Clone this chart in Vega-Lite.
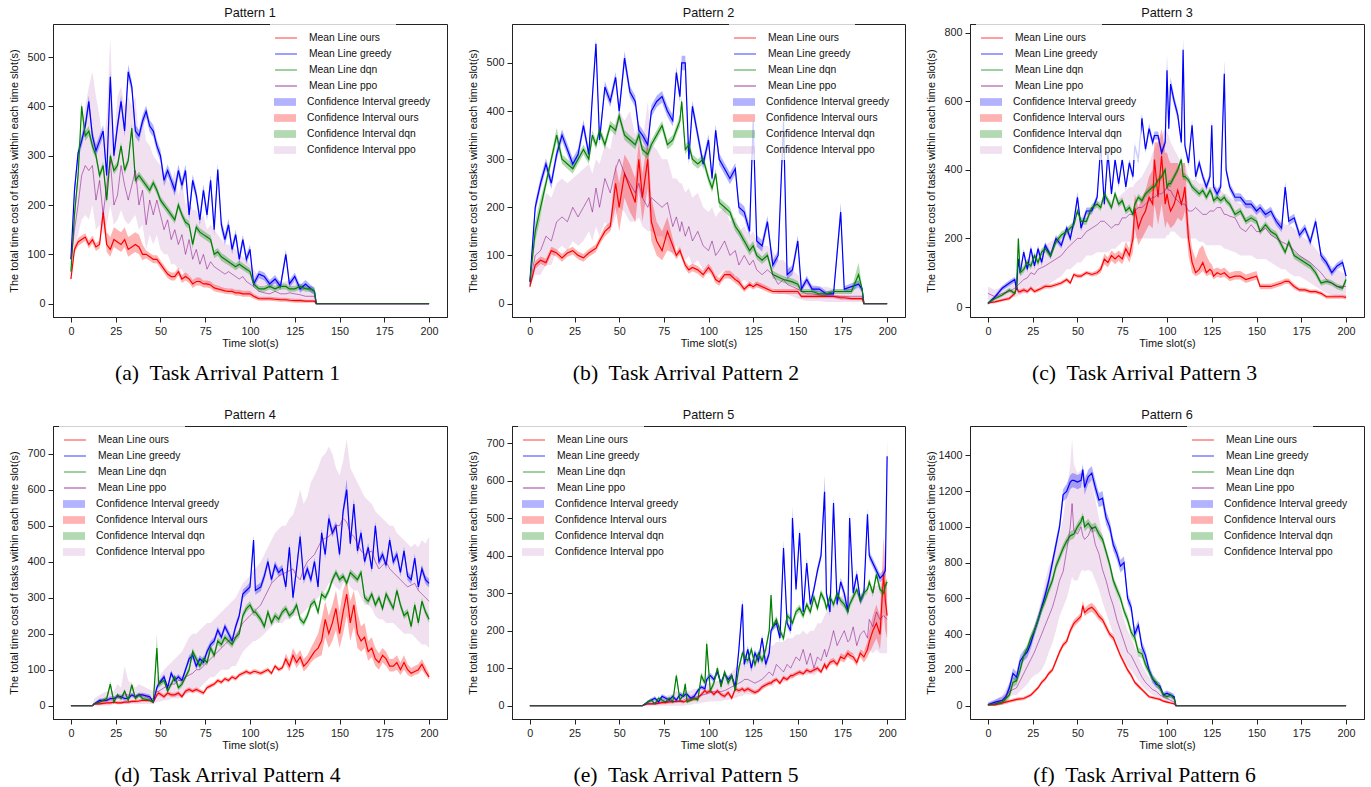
{
"$schema":"https://vega.github.io/schema/vega-lite/v6.json",
"background":"white",
"padding":{"left":7,"top":6,"right":5,"bottom":2},
"config":{
 "font":"Liberation Sans",
 "view":{"stroke":"#222","strokeWidth":1},
 "axis":{"grid":false,"domainColor":"#222","tickColor":"#222","labelColor":"#222","titleColor":"#111","labelFontSize":10.8,"titleFontSize":10.9,"titleFontWeight":"normal","tickSize":5,"labelPadding":3,"domainWidth":1,"labelFlush":false,"labelFont":"Liberation Sans","titleFont":"Liberation Sans","format":"d"},
 "axisX":{"titlePadding":2},
 "axisY":{"titlePadding":5,"minExtent":29,"maxExtent":29},
 "title":{"fontSize":12.7,"fontWeight":"normal","color":"#111","offset":4,"font":"Liberation Sans"},
 "legend":{"labelFont":"Liberation Sans","labelFontSize":10.3,"labelColor":"#111","padding":4,"rowPadding":1,"fillColor":"rgba(255,255,255,0.8)","symbolSize":324,"symbolOffset":2,"labelOffset":13,"labelLimit":300}
},
"resolve":{"scale":{"color":"independent","fill":"independent"},"legend":{"color":"independent","fill":"independent"}},
"spacing":23,
"vconcat":[
{"spacing":18,"resolve":{"scale":{"color":"independent","fill":"independent"},"legend":{"color":"independent","fill":"independent"}},
"hconcat":[
{"title":{"text":"(a)\u00a0 Task Arrival Pattern 1","orient":"bottom","anchor":"middle","font":"Liberation Serif","fontSize":21.7,"fontWeight":"normal","color":"#000","offset":14},
 "resolve":{"scale":{"color":"independent","fill":"independent"},"legend":{"color":"independent","fill":"independent"}},
 "vconcat":[{
 "title":"Pattern 1","width":394,"height":293,
 "data":{"values":[
{"t":0,"o":50,"ol":45,"oh":55,"g":90,"gl":82,"gh":98,"d":65,"dl":58,"dh":72,"q":90,"ql":80,"qh":100},
{"t":2,"o":110,"ol":102,"oh":118,"g":230,"gl":218,"gh":242,"d":180,"dl":170,"dh":190,"q":150,"ql":110,"qh":200},
{"t":4,"o":125,"ol":117,"oh":133,"g":305,"gl":293,"gh":317,"d":260,"dl":250,"dh":270,"q":200,"ql":140,"qh":280},
{"t":6,"o":130,"ol":122,"oh":138,"g":330,"gl":318,"gh":342,"d":400,"dl":385,"dh":410,"q":260,"ql":170,"qh":350},
{"t":8,"o":135,"ol":127,"oh":143,"g":360,"gl":348,"gh":372,"d":340,"dl":330,"dh":350,"q":280,"ql":180,"qh":400},
{"t":10,"o":120,"ol":112,"oh":128,"g":410,"gl":395,"gh":422,"d":350,"dl":340,"dh":360,"q":270,"ql":170,"qh":440},
{"t":12,"o":130,"ol":122,"oh":138,"g":340,"gl":328,"gh":352,"d":320,"dl":310,"dh":330,"q":280,"ql":200,"qh":470},
{"t":14,"o":115,"ol":107,"oh":123,"g":310,"gl":298,"gh":322,"d":300,"dl":292,"dh":308,"q":210,"ql":150,"qh":420},
{"t":16,"o":120,"ol":112,"oh":128,"g":330,"gl":318,"gh":342,"d":260,"dl":252,"dh":268,"q":250,"ql":160,"qh":380},
{"t":18,"o":185,"ol":170,"oh":200,"g":350,"gl":338,"gh":362,"d":280,"dl":272,"dh":288,"q":180,"ql":140,"qh":320},
{"t":20,"o":120,"ol":105,"oh":145,"g":260,"gl":248,"gh":272,"d":210,"dl":202,"dh":218,"q":240,"ql":160,"qh":380},
{"t":22,"o":110,"ol":95,"oh":135,"g":460,"gl":445,"gh":472,"d":300,"dl":292,"dh":308,"q":290,"ql":200,"qh":540},
{"t":24,"o":130,"ol":115,"oh":155,"g":300,"gl":288,"gh":312,"d":270,"dl":262,"dh":278,"q":200,"ql":160,"qh":330},
{"t":26,"o":125,"ol":110,"oh":150,"g":360,"gl":348,"gh":372,"d":280,"dl":272,"dh":288,"q":220,"ql":170,"qh":420},
{"t":28,"o":120,"ol":105,"oh":145,"g":410,"gl":398,"gh":422,"d":320,"dl":312,"dh":328,"q":280,"ql":190,"qh":440},
{"t":30,"o":130,"ol":115,"oh":155,"g":350,"gl":338,"gh":362,"d":270,"dl":262,"dh":278,"q":240,"ql":170,"qh":400},
{"t":32,"o":110,"ol":95,"oh":135,"g":470,"gl":455,"gh":485,"d":290,"dl":282,"dh":298,"q":210,"ql":160,"qh":420},
{"t":34,"o":115,"ol":100,"oh":140,"g":440,"gl":428,"gh":452,"d":356,"dl":345,"dh":365,"q":240,"ql":170,"qh":400},
{"t":36,"o":120,"ol":105,"oh":145,"g":350,"gl":338,"gh":362,"d":250,"dl":242,"dh":258,"q":270,"ql":180,"qh":420},
{"t":38,"o":115,"ol":100,"oh":140,"g":340,"gl":328,"gh":352,"d":260,"dl":252,"dh":268,"q":200,"ql":150,"qh":330},
{"t":40,"o":100,"ol":88,"oh":120,"g":370,"gl":358,"gh":382,"d":250,"dl":242,"dh":258,"q":230,"ql":160,"qh":380},
{"t":42,"o":100,"ol":92,"oh":108,"g":390,"gl":378,"gh":402,"d":240,"dl":232,"dh":248,"q":160,"ql":110,"qh":330},
{"t":44,"o":95,"ol":87,"oh":103,"g":360,"gl":348,"gh":372,"d":230,"dl":222,"dh":238,"q":210,"ql":140,"qh":320},
{"t":46,"o":90,"ol":82,"oh":98,"g":350,"gl":338,"gh":362,"d":245,"dl":237,"dh":253,"q":180,"ql":120,"qh":300},
{"t":48,"o":90,"ol":82,"oh":98,"g":320,"gl":308,"gh":332,"d":230,"dl":222,"dh":238,"q":210,"ql":140,"qh":290},
{"t":50,"o":80,"ol":72,"oh":88,"g":300,"gl":288,"gh":312,"d":210,"dl":202,"dh":218,"q":180,"ql":110,"qh":280},
{"t":52,"o":70,"ol":62,"oh":78,"g":250,"gl":238,"gh":262,"d":200,"dl":192,"dh":208,"q":150,"ql":100,"qh":260},
{"t":54,"o":60,"ol":52,"oh":68,"g":270,"gl":258,"gh":282,"d":190,"dl":182,"dh":198,"q":170,"ql":100,"qh":250},
{"t":56,"o":55,"ol":47,"oh":63,"g":250,"gl":238,"gh":262,"d":180,"dl":172,"dh":188,"q":130,"ql":80,"qh":240},
{"t":58,"o":55,"ol":47,"oh":63,"g":230,"gl":218,"gh":242,"d":170,"dl":162,"dh":178,"q":150,"ql":80,"qh":270},
{"t":60,"o":65,"ol":57,"oh":73,"g":270,"gl":258,"gh":282,"d":200,"dl":192,"dh":208,"q":120,"ql":70,"qh":220},
{"t":62,"o":50,"ol":42,"oh":58,"g":240,"gl":228,"gh":252,"d":180,"dl":172,"dh":188,"q":140,"ql":70,"qh":250},
{"t":64,"o":55,"ol":47,"oh":63,"g":270,"gl":258,"gh":282,"d":165,"dl":157,"dh":173,"q":100,"ql":50,"qh":200},
{"t":66,"o":50,"ol":42,"oh":58,"g":180,"gl":168,"gh":192,"d":160,"dl":152,"dh":168,"q":130,"ql":60,"qh":210},
{"t":68,"o":40,"ol":32,"oh":48,"g":250,"gl":238,"gh":262,"d":120,"dl":112,"dh":128,"q":90,"ql":40,"qh":190},
{"t":70,"o":45,"ol":37,"oh":53,"g":220,"gl":208,"gh":232,"d":155,"dl":147,"dh":163,"q":110,"ql":50,"qh":190},
{"t":72,"o":45,"ol":37,"oh":53,"g":170,"gl":158,"gh":182,"d":145,"dl":137,"dh":153,"q":80,"ql":40,"qh":170},
{"t":74,"o":40,"ol":33,"oh":47,"g":230,"gl":218,"gh":242,"d":140,"dl":132,"dh":148,"q":100,"ql":45,"qh":180},
{"t":76,"o":40,"ol":33,"oh":47,"g":180,"gl":168,"gh":192,"d":135,"dl":127,"dh":143,"q":70,"ql":35,"qh":150},
{"t":78,"o":38,"ol":31,"oh":45,"g":250,"gl":238,"gh":262,"d":130,"dl":122,"dh":138,"q":85,"ql":40,"qh":160},
{"t":80,"o":32,"ol":25,"oh":39,"g":150,"gl":138,"gh":162,"d":100,"dl":92,"dh":108,"q":75,"ql":35,"qh":150},
{"t":82,"o":30,"ol":23,"oh":37,"g":272,"gl":260,"gh":284,"d":105,"dl":97,"dh":113,"q":70,"ql":35,"qh":140},
{"t":84,"o":28,"ol":22,"oh":34,"g":160,"gl":148,"gh":172,"d":95,"dl":87,"dh":103,"q":65,"ql":30,"qh":130},
{"t":86,"o":26,"ol":20,"oh":32,"g":130,"gl":118,"gh":142,"d":90,"dl":82,"dh":98,"q":60,"ql":28,"qh":120},
{"t":88,"o":25,"ol":19,"oh":31,"g":160,"gl":148,"gh":172,"d":85,"dl":78,"dh":92,"q":65,"ql":30,"qh":120},
{"t":90,"o":25,"ol":19,"oh":31,"g":110,"gl":100,"gh":120,"d":80,"dl":73,"dh":87,"q":60,"ql":25,"qh":115},
{"t":92,"o":22,"ol":16,"oh":28,"g":140,"gl":130,"gh":150,"d":75,"dl":68,"dh":82,"q":55,"ql":25,"qh":110},
{"t":94,"o":22,"ol":16,"oh":28,"g":90,"gl":80,"gh":100,"d":80,"dl":73,"dh":87,"q":50,"ql":20,"qh":100},
{"t":96,"o":20,"ol":14,"oh":26,"g":130,"gl":120,"gh":140,"d":75,"dl":68,"dh":82,"q":55,"ql":22,"qh":95},
{"t":98,"o":20,"ol":14,"oh":26,"g":90,"gl":80,"gh":100,"d":70,"dl":63,"dh":77,"q":45,"ql":20,"qh":90},
{"t":100,"o":20,"ol":14,"oh":26,"g":110,"gl":100,"gh":120,"d":65,"dl":58,"dh":72,"q":40,"ql":18,"qh":80},
{"t":102,"o":15,"ol":10,"oh":20,"g":40,"gl":32,"gh":48,"d":40,"dl":34,"dh":46,"q":35,"ql":15,"qh":70},
{"t":105,"o":10,"ol":6,"oh":14,"g":60,"gl":52,"gh":68,"d":30,"dl":24,"dh":36,"q":25,"ql":10,"qh":55},
{"t":108,"o":10,"ol":6,"oh":14,"g":55,"gl":47,"gh":63,"d":30,"dl":24,"dh":36,"q":22,"ql":8,"qh":50},
{"t":111,"o":10,"ol":6,"oh":14,"g":40,"gl":32,"gh":48,"d":35,"dl":29,"dh":41,"q":20,"ql":8,"qh":45},
{"t":114,"o":9,"ol":5,"oh":13,"g":50,"gl":42,"gh":58,"d":30,"dl":24,"dh":36,"q":25,"ql":10,"qh":50},
{"t":117,"o":8,"ol":4,"oh":12,"g":35,"gl":27,"gh":43,"d":35,"dl":29,"dh":41,"q":20,"ql":8,"qh":45},
{"t":120,"o":8,"ol":4,"oh":12,"g":100,"gl":90,"gh":110,"d":35,"dl":29,"dh":41,"q":20,"ql":6,"qh":45},
{"t":122,"o":7,"ol":3,"oh":11,"g":40,"gl":32,"gh":48,"d":30,"dl":24,"dh":36,"q":22,"ql":8,"qh":48},
{"t":125,"o":6,"ol":2,"oh":10,"g":55,"gl":47,"gh":63,"d":30,"dl":24,"dh":36,"q":20,"ql":6,"qh":45},
{"t":128,"o":6,"ol":2,"oh":10,"g":30,"gl":22,"gh":38,"d":35,"dl":29,"dh":41,"q":18,"ql":5,"qh":40},
{"t":131,"o":5,"ol":2,"oh":8,"g":40,"gl":32,"gh":48,"d":30,"dl":24,"dh":36,"q":15,"ql":5,"qh":38},
{"t":134,"o":5,"ol":2,"oh":8,"g":30,"gl":22,"gh":38,"d":30,"dl":24,"dh":36,"q":15,"ql":5,"qh":35},
{"t":136,"o":5,"ol":2,"oh":8,"g":25,"gl":18,"gh":32,"d":25,"dl":19,"dh":31,"q":15,"ql":5,"qh":35},
{"t":137,"o":0,"ol":0,"oh":0,"g":0,"gl":0,"gh":0,"d":0,"dl":0,"dh":0,"q":0,"ql":0,"qh":0},
{"t":200,"o":0,"ol":0,"oh":0,"g":0,"gl":0,"gh":0,"d":0,"dl":0,"dh":0,"q":0,"ql":0,"qh":0}
 ]},
 "encoding":{"x":{"field":"t","type":"quantitative","scale":{"domain":[-10,210],"nice":false,"zero":false},"axis":{"values":[0,25,50,75,100,125,150,175,200],"title":"Time slot(s)"}}},
 "layer":[
  {"mark":{"type":"area","opacity":0.3},"encoding":{"y":{"field":"ql","type":"quantitative","scale":{"domain":[-27,567],"nice":false,"zero":false},"axis":{"values":[0,100,200,300,400,500],"title":"The total time cost of tasks within each time slot(s)"}},"y2":{"field":"qh"},
   "fill":{"datum":"Confidence Interval ppo","type":"nominal","scale":{"domain":["Confidence Interval greedy","Confidence Interval ours","Confidence Interval dqn","Confidence Interval ppo"],"range":["#0000ff","#ff0000","#008000","#cc99cc"]},"legend":{"title":null,"orient":"none","legendX":217,"legendY":65,"symbolType":"M-1.22,-0.43H1.22V0.43H-1.22Z","symbolOpacity":0.3,"symbolStrokeWidth":0}}}},
  {"mark":{"type":"area","opacity":0.3},"encoding":{"y":{"field":"gl","type":"quantitative"},"y2":{"field":"gh"},"fill":{"datum":"Confidence Interval greedy","type":"nominal"}}},
  {"mark":{"type":"area","opacity":0.3},"encoding":{"y":{"field":"ol","type":"quantitative"},"y2":{"field":"oh"},"fill":{"datum":"Confidence Interval ours","type":"nominal"}}},
  {"mark":{"type":"area","opacity":0.3},"encoding":{"y":{"field":"dl","type":"quantitative"},"y2":{"field":"dh"},"fill":{"datum":"Confidence Interval dqn","type":"nominal"}}},
  {"mark":{"type":"line","strokeWidth":1.2},"encoding":{"y":{"field":"o","type":"quantitative"},"color":{"datum":"Mean Line ours","type":"nominal","scale":{"domain":["Mean Line ours","Mean Line greedy","Mean Line dqn","Mean Line ppo"],"range":["#ff0000","#0000ff","#008000","#800080"]},"legend":{"title":null,"orient":"none","legendX":217,"legendY":0,"rowPadding":0,"symbolType":"M-1.22,0H1.22","symbolStrokeWidth":1.5}}}},
  {"mark":{"type":"line","strokeWidth":1.2},"encoding":{"y":{"field":"g","type":"quantitative"},"color":{"datum":"Mean Line greedy","type":"nominal"}}},
  {"mark":{"type":"line","strokeWidth":1.2},"encoding":{"y":{"field":"d","type":"quantitative"},"color":{"datum":"Mean Line dqn","type":"nominal"}}},
  {"mark":{"type":"line","strokeWidth":1,"opacity":0.5},"encoding":{"y":{"field":"q","type":"quantitative"},"color":{"datum":"Mean Line ppo","type":"nominal"}}}
 ]}]},
{"title":{"text":"(b)\u00a0 Task Arrival Pattern 2","orient":"bottom","anchor":"middle","font":"Liberation Serif","fontSize":21.7,"fontWeight":"normal","color":"#000","offset":14},
 "resolve":{"scale":{"color":"independent","fill":"independent"},"legend":{"color":"independent","fill":"independent"}},
 "vconcat":[{
 "title":"Pattern 2","width":393,"height":293,
 "data":{"values":[
{"t":0,"o":35,"ol":30,"oh":40,"g":45,"gl":38,"gh":52,"d":45,"dl":38,"dh":52,"q":40,"ql":35,"qh":45},
{"t":3,"o":80,"ol":72,"oh":88,"g":200,"gl":188,"gh":212,"d":150,"dl":130,"dh":170,"q":100,"ql":60,"qh":160},
{"t":6,"o":90,"ol":82,"oh":98,"g":250,"gl":238,"gh":262,"d":200,"dl":180,"dh":220,"q":110,"ql":60,"qh":180},
{"t":9,"o":85,"ol":77,"oh":93,"g":290,"gl":278,"gh":302,"d":250,"dl":240,"dh":260,"q":140,"ql":80,"qh":230},
{"t":12,"o":110,"ol":102,"oh":118,"g":250,"gl":238,"gh":262,"d":300,"dl":290,"dh":310,"q":130,"ql":80,"qh":220},
{"t":15,"o":105,"ol":97,"oh":113,"g":310,"gl":298,"gh":322,"d":350,"dl":335,"dh":365,"q":170,"ql":110,"qh":250},
{"t":18,"o":95,"ol":87,"oh":103,"g":350,"gl":338,"gh":362,"d":300,"dl":290,"dh":310,"q":180,"ql":120,"qh":260},
{"t":21,"o":105,"ol":97,"oh":113,"g":320,"gl":308,"gh":332,"d":290,"dl":280,"dh":300,"q":170,"ql":110,"qh":250},
{"t":24,"o":110,"ol":102,"oh":118,"g":290,"gl":278,"gh":302,"d":280,"dl":270,"dh":290,"q":200,"ql":130,"qh":260},
{"t":27,"o":100,"ol":92,"oh":108,"g":310,"gl":298,"gh":322,"d":300,"dl":290,"dh":310,"q":180,"ql":120,"qh":270},
{"t":30,"o":95,"ol":87,"oh":103,"g":370,"gl":358,"gh":382,"d":320,"dl":310,"dh":330,"q":200,"ql":130,"qh":280},
{"t":33,"o":105,"ol":97,"oh":113,"g":310,"gl":298,"gh":322,"d":300,"dl":290,"dh":310,"q":220,"ql":150,"qh":290},
{"t":35,"o":110,"ol":102,"oh":118,"g":430,"gl":418,"gh":442,"d":350,"dl":340,"dh":360,"q":190,"ql":130,"qh":270},
{"t":37,"o":115,"ol":107,"oh":123,"g":540,"gl":525,"gh":552,"d":330,"dl":320,"dh":340,"q":240,"ql":160,"qh":300},
{"t":39,"o":130,"ol":122,"oh":138,"g":340,"gl":328,"gh":352,"d":360,"dl":350,"dh":370,"q":200,"ql":140,"qh":290},
{"t":42,"o":150,"ol":140,"oh":160,"g":450,"gl":438,"gh":462,"d":330,"dl":320,"dh":340,"q":260,"ql":170,"qh":330},
{"t":45,"o":160,"ol":150,"oh":170,"g":420,"gl":408,"gh":432,"d":370,"dl":360,"dh":380,"q":230,"ql":150,"qh":320},
{"t":48,"o":250,"ol":200,"oh":290,"g":470,"gl":458,"gh":482,"d":360,"dl":350,"dh":370,"q":280,"ql":180,"qh":380},
{"t":50,"o":200,"ol":150,"oh":250,"g":400,"gl":388,"gh":412,"d":390,"dl":380,"dh":400,"q":300,"ql":200,"qh":400},
{"t":53,"o":270,"ol":220,"oh":310,"g":510,"gl":495,"gh":525,"d":350,"dl":340,"dh":360,"q":270,"ql":190,"qh":380},
{"t":56,"o":240,"ol":190,"oh":290,"g":440,"gl":428,"gh":452,"d":340,"dl":330,"dh":350,"q":250,"ql":170,"qh":400},
{"t":59,"o":210,"ol":170,"oh":260,"g":420,"gl":408,"gh":432,"d":330,"dl":320,"dh":340,"q":230,"ql":170,"qh":350},
{"t":61,"o":300,"ol":240,"oh":340,"g":360,"gl":348,"gh":372,"d":350,"dl":340,"dh":360,"q":250,"ql":180,"qh":380},
{"t":63,"o":220,"ol":170,"oh":270,"g":350,"gl":338,"gh":362,"d":320,"dl":310,"dh":330,"q":220,"ql":160,"qh":330},
{"t":66,"o":300,"ol":240,"oh":340,"g":330,"gl":318,"gh":342,"d":310,"dl":300,"dh":320,"q":200,"ql":150,"qh":420},
{"t":68,"o":170,"ol":130,"oh":220,"g":400,"gl":388,"gh":412,"d":330,"dl":320,"dh":340,"q":220,"ql":150,"qh":330},
{"t":71,"o":130,"ol":100,"oh":170,"g":420,"gl":408,"gh":432,"d":350,"dl":340,"dh":360,"q":210,"ql":140,"qh":320},
{"t":74,"o":110,"ol":90,"oh":150,"g":430,"gl":418,"gh":442,"d":370,"dl":360,"dh":380,"q":200,"ql":140,"qh":300},
{"t":77,"o":150,"ol":110,"oh":180,"g":400,"gl":388,"gh":412,"d":330,"dl":320,"dh":340,"q":210,"ql":130,"qh":300},
{"t":80,"o":120,"ol":105,"oh":135,"g":380,"gl":368,"gh":392,"d":340,"dl":330,"dh":350,"q":160,"ql":100,"qh":260},
{"t":82,"o":100,"ol":92,"oh":108,"g":480,"gl":468,"gh":492,"d":360,"dl":350,"dh":370,"q":180,"ql":120,"qh":260},
{"t":84,"o":110,"ol":102,"oh":118,"g":430,"gl":418,"gh":442,"d":380,"dl":368,"dh":392,"q":150,"ql":100,"qh":250},
{"t":85,"o":100,"ol":92,"oh":108,"g":500,"gl":485,"gh":515,"d":420,"dl":408,"dh":430,"q":170,"ql":110,"qh":250},
{"t":87,"o":80,"ol":72,"oh":88,"g":500,"gl":485,"gh":515,"d":320,"dl":310,"dh":330,"q":140,"ql":90,"qh":230},
{"t":89,"o":70,"ol":62,"oh":78,"g":300,"gl":288,"gh":312,"d":330,"dl":320,"dh":340,"q":160,"ql":100,"qh":240},
{"t":91,"o":75,"ol":67,"oh":83,"g":410,"gl":398,"gh":422,"d":300,"dl":290,"dh":310,"q":130,"ql":80,"qh":220},
{"t":94,"o":70,"ol":62,"oh":78,"g":350,"gl":338,"gh":362,"d":290,"dl":280,"dh":300,"q":150,"ql":90,"qh":230},
{"t":97,"o":60,"ol":52,"oh":68,"g":290,"gl":278,"gh":302,"d":300,"dl":290,"dh":310,"q":120,"ql":70,"qh":200},
{"t":100,"o":75,"ol":67,"oh":83,"g":340,"gl":328,"gh":352,"d":260,"dl":250,"dh":270,"q":110,"ql":60,"qh":190},
{"t":102,"o":65,"ol":57,"oh":73,"g":260,"gl":248,"gh":272,"d":240,"dl":230,"dh":250,"q":130,"ql":70,"qh":200},
{"t":104,"o":50,"ol":42,"oh":58,"g":360,"gl":348,"gh":372,"d":270,"dl":260,"dh":280,"q":100,"ql":50,"qh":180},
{"t":106,"o":45,"ol":37,"oh":53,"g":300,"gl":288,"gh":312,"d":210,"dl":200,"dh":220,"q":110,"ql":60,"qh":190},
{"t":109,"o":60,"ol":52,"oh":68,"g":280,"gl":268,"gh":292,"d":200,"dl":190,"dh":210,"q":130,"ql":70,"qh":200},
{"t":112,"o":60,"ol":52,"oh":68,"g":260,"gl":248,"gh":272,"d":190,"dl":180,"dh":200,"q":100,"ql":50,"qh":170},
{"t":115,"o":50,"ol":42,"oh":58,"g":280,"gl":268,"gh":292,"d":160,"dl":150,"dh":170,"q":110,"ql":60,"qh":180},
{"t":117,"o":45,"ol":37,"oh":53,"g":200,"gl":188,"gh":212,"d":150,"dl":140,"dh":160,"q":80,"ql":40,"qh":150},
{"t":120,"o":30,"ol":24,"oh":36,"g":190,"gl":178,"gh":202,"d":130,"dl":120,"dh":140,"q":100,"ql":50,"qh":160},
{"t":123,"o":40,"ol":34,"oh":46,"g":150,"gl":138,"gh":162,"d":110,"dl":100,"dh":120,"q":80,"ql":40,"qh":140},
{"t":125,"o":35,"ol":29,"oh":41,"g":378,"gl":360,"gh":390,"d":120,"dl":110,"dh":130,"q":90,"ql":45,"qh":150},
{"t":127,"o":40,"ol":34,"oh":46,"g":130,"gl":118,"gh":142,"d":100,"dl":92,"dh":108,"q":70,"ql":35,"qh":130},
{"t":130,"o":35,"ol":29,"oh":41,"g":120,"gl":108,"gh":132,"d":90,"dl":82,"dh":98,"q":60,"ql":30,"qh":120},
{"t":133,"o":30,"ol":24,"oh":36,"g":170,"gl":158,"gh":182,"d":100,"dl":92,"dh":108,"q":70,"ql":35,"qh":120},
{"t":136,"o":25,"ol":20,"oh":30,"g":80,"gl":70,"gh":90,"d":60,"dl":52,"dh":68,"q":60,"ql":30,"qh":110},
{"t":139,"o":25,"ol":20,"oh":30,"g":100,"gl":90,"gh":110,"d":55,"dl":48,"dh":62,"q":40,"ql":20,"qh":90},
{"t":142,"o":25,"ol":20,"oh":30,"g":378,"gl":360,"gh":390,"d":50,"dl":43,"dh":57,"q":50,"ql":20,"qh":90},
{"t":144,"o":25,"ol":20,"oh":30,"g":60,"gl":50,"gh":70,"d":48,"dl":41,"dh":55,"q":40,"ql":18,"qh":80},
{"t":147,"o":25,"ol":20,"oh":30,"g":70,"gl":60,"gh":80,"d":45,"dl":38,"dh":52,"q":35,"ql":15,"qh":70},
{"t":150,"o":25,"ol":20,"oh":30,"g":130,"gl":118,"gh":142,"d":40,"dl":33,"dh":47,"q":30,"ql":10,"qh":60},
{"t":152,"o":15,"ol":11,"oh":19,"g":30,"gl":24,"gh":36,"d":25,"dl":20,"dh":30,"q":25,"ql":8,"qh":50},
{"t":155,"o":15,"ol":11,"oh":19,"g":50,"gl":42,"gh":58,"d":25,"dl":20,"dh":30,"q":20,"ql":5,"qh":45},
{"t":158,"o":15,"ol":11,"oh":19,"g":30,"gl":24,"gh":36,"d":25,"dl":20,"dh":30,"q":20,"ql":5,"qh":40},
{"t":162,"o":15,"ol":11,"oh":19,"g":30,"gl":24,"gh":36,"d":20,"dl":15,"dh":25,"q":18,"ql":5,"qh":35},
{"t":166,"o":15,"ol":11,"oh":19,"g":20,"gl":14,"gh":26,"d":20,"dl":15,"dh":25,"q":15,"ql":3,"qh":35},
{"t":170,"o":15,"ol":11,"oh":19,"g":20,"gl":14,"gh":26,"d":25,"dl":20,"dh":30,"q":15,"ql":3,"qh":30},
{"t":174,"o":12,"ol":8,"oh":16,"g":190,"gl":175,"gh":210,"d":25,"dl":20,"dh":30,"q":15,"ql":3,"qh":30},
{"t":176,"o":12,"ol":8,"oh":16,"g":30,"gl":24,"gh":36,"d":25,"dl":20,"dh":30,"q":15,"ql":3,"qh":30},
{"t":180,"o":10,"ol":7,"oh":13,"g":35,"gl":28,"gh":42,"d":25,"dl":20,"dh":30,"q":15,"ql":3,"qh":30},
{"t":184,"o":10,"ol":7,"oh":13,"g":40,"gl":32,"gh":48,"d":60,"dl":40,"dh":85,"q":15,"ql":3,"qh":30},
{"t":186,"o":10,"ol":7,"oh":13,"g":30,"gl":24,"gh":36,"d":30,"dl":24,"dh":36,"q":15,"ql":3,"qh":30},
{"t":187,"o":0,"ol":0,"oh":0,"g":0,"gl":0,"gh":0,"d":0,"dl":0,"dh":0,"q":0,"ql":0,"qh":0},
{"t":200,"o":0,"ol":0,"oh":0,"g":0,"gl":0,"gh":0,"d":0,"dl":0,"dh":0,"q":0,"ql":0,"qh":0}
 ]},
 "encoding":{"x":{"field":"t","type":"quantitative","scale":{"domain":[-10,210],"nice":false,"zero":false},"axis":{"values":[0,25,50,75,100,125,150,175,200],"title":"Time slot(s)"}}},
 "layer":[
  {"mark":{"type":"area","opacity":0.3},"encoding":{"y":{"field":"ql","type":"quantitative","scale":{"domain":[-28,581],"nice":false,"zero":false},"axis":{"values":[0,100,200,300,400,500],"title":"The total time cost of tasks within each time slot(s)"}},"y2":{"field":"qh"},
   "fill":{"datum":"Confidence Interval ppo","type":"nominal","scale":{"domain":["Confidence Interval greedy","Confidence Interval ours","Confidence Interval dqn","Confidence Interval ppo"],"range":["#0000ff","#ff0000","#008000","#cc99cc"]},"legend":{"title":null,"orient":"none","legendX":217,"legendY":65,"symbolType":"M-1.22,-0.43H1.22V0.43H-1.22Z","symbolOpacity":0.3,"symbolStrokeWidth":0}}}},
  {"mark":{"type":"area","opacity":0.3},"encoding":{"y":{"field":"gl","type":"quantitative"},"y2":{"field":"gh"},"fill":{"datum":"Confidence Interval greedy","type":"nominal"}}},
  {"mark":{"type":"area","opacity":0.3},"encoding":{"y":{"field":"ol","type":"quantitative"},"y2":{"field":"oh"},"fill":{"datum":"Confidence Interval ours","type":"nominal"}}},
  {"mark":{"type":"area","opacity":0.3},"encoding":{"y":{"field":"dl","type":"quantitative"},"y2":{"field":"dh"},"fill":{"datum":"Confidence Interval dqn","type":"nominal"}}},
  {"mark":{"type":"line","strokeWidth":1.2},"encoding":{"y":{"field":"o","type":"quantitative"},"color":{"datum":"Mean Line ours","type":"nominal","scale":{"domain":["Mean Line ours","Mean Line greedy","Mean Line dqn","Mean Line ppo"],"range":["#ff0000","#0000ff","#008000","#800080"]},"legend":{"title":null,"orient":"none","legendX":217,"legendY":0,"rowPadding":0,"symbolType":"M-1.22,0H1.22","symbolStrokeWidth":1.5}}}},
  {"mark":{"type":"line","strokeWidth":1.2},"encoding":{"y":{"field":"g","type":"quantitative"},"color":{"datum":"Mean Line greedy","type":"nominal"}}},
  {"mark":{"type":"line","strokeWidth":1.2},"encoding":{"y":{"field":"d","type":"quantitative"},"color":{"datum":"Mean Line dqn","type":"nominal"}}},
  {"mark":{"type":"line","strokeWidth":1,"opacity":0.5},"encoding":{"y":{"field":"q","type":"quantitative"},"color":{"datum":"Mean Line ppo","type":"nominal"}}}
 ]}]},
{"title":{"text":"(c)\u00a0 Task Arrival Pattern 3","orient":"bottom","anchor":"middle","font":"Liberation Serif","fontSize":21.7,"fontWeight":"normal","color":"#000","offset":14},
 "resolve":{"scale":{"color":"independent","fill":"independent"},"legend":{"color":"independent","fill":"independent"}},
 "vconcat":[{
 "title":"Pattern 3","width":394,"height":293,
 "data":{"values":[
{"t":0,"o":12,"ol":9,"oh":15,"g":10,"gl":6,"gh":14,"d":12,"dl":8,"dh":16,"q":40,"ql":20,"qh":60},
{"t":4,"o":15,"ol":11,"oh":19,"g":30,"gl":24,"gh":36,"d":25,"dl":20,"dh":30,"q":30,"ql":15,"qh":50},
{"t":8,"o":20,"ol":16,"oh":24,"g":55,"gl":48,"gh":62,"d":35,"dl":30,"dh":40,"q":40,"ql":20,"qh":60},
{"t":12,"o":25,"ol":20,"oh":30,"g":70,"gl":62,"gh":78,"d":50,"dl":44,"dh":56,"q":45,"ql":25,"qh":70},
{"t":15,"o":40,"ol":34,"oh":46,"g":80,"gl":72,"gh":88,"d":40,"dl":34,"dh":46,"q":55,"ql":30,"qh":80},
{"t":16,"o":60,"ol":52,"oh":68,"g":50,"gl":42,"gh":58,"d":60,"dl":52,"dh":68,"q":60,"ql":30,"qh":90},
{"t":17,"o":45,"ol":39,"oh":51,"g":140,"gl":130,"gh":150,"d":200,"dl":185,"dh":210,"q":65,"ql":35,"qh":100},
{"t":18,"o":45,"ol":39,"oh":51,"g":100,"gl":90,"gh":110,"d":100,"dl":90,"dh":110,"q":70,"ql":35,"qh":110},
{"t":20,"o":50,"ol":44,"oh":56,"g":160,"gl":150,"gh":170,"d":110,"dl":100,"dh":120,"q":80,"ql":40,"qh":130},
{"t":22,"o":45,"ol":39,"oh":51,"g":110,"gl":100,"gh":120,"d":130,"dl":120,"dh":140,"q":85,"ql":40,"qh":140},
{"t":24,"o":55,"ol":49,"oh":61,"g":170,"gl":160,"gh":180,"d":120,"dl":110,"dh":130,"q":100,"ql":50,"qh":150},
{"t":26,"o":45,"ol":39,"oh":51,"g":120,"gl":110,"gh":130,"d":150,"dl":140,"dh":160,"q":95,"ql":50,"qh":150},
{"t":28,"o":50,"ol":44,"oh":56,"g":170,"gl":160,"gh":180,"d":130,"dl":120,"dh":140,"q":110,"ql":60,"qh":160},
{"t":30,"o":55,"ol":49,"oh":61,"g":130,"gl":120,"gh":140,"d":160,"dl":150,"dh":170,"q":115,"ql":60,"qh":170},
{"t":32,"o":60,"ol":54,"oh":66,"g":180,"gl":170,"gh":190,"d":170,"dl":160,"dh":180,"q":120,"ql":60,"qh":180},
{"t":35,"o":60,"ol":54,"oh":66,"g":150,"gl":140,"gh":160,"d":150,"dl":140,"dh":160,"q":130,"ql":70,"qh":190},
{"t":38,"o":65,"ol":59,"oh":71,"g":200,"gl":190,"gh":210,"d":190,"dl":180,"dh":200,"q":140,"ql":80,"qh":200},
{"t":41,"o":70,"ol":64,"oh":76,"g":180,"gl":170,"gh":190,"d":210,"dl":200,"dh":220,"q":150,"ql":90,"qh":210},
{"t":44,"o":80,"ol":74,"oh":86,"g":230,"gl":220,"gh":240,"d":220,"dl":210,"dh":230,"q":170,"ql":110,"qh":230},
{"t":46,"o":70,"ol":64,"oh":76,"g":200,"gl":190,"gh":210,"d":230,"dl":220,"dh":240,"q":180,"ql":110,"qh":240},
{"t":48,"o":95,"ol":89,"oh":101,"g":250,"gl":240,"gh":260,"d":240,"dl":230,"dh":250,"q":190,"ql":120,"qh":250},
{"t":50,"o":90,"ol":84,"oh":96,"g":320,"gl":305,"gh":335,"d":280,"dl":270,"dh":290,"q":200,"ql":130,"qh":260},
{"t":52,"o":90,"ol":84,"oh":96,"g":230,"gl":220,"gh":240,"d":250,"dl":240,"dh":260,"q":200,"ql":130,"qh":260},
{"t":55,"o":100,"ol":94,"oh":106,"g":280,"gl":270,"gh":290,"d":250,"dl":240,"dh":260,"q":220,"ql":150,"qh":280},
{"t":58,"o":95,"ol":89,"oh":101,"g":280,"gl":270,"gh":290,"d":290,"dl":280,"dh":300,"q":230,"ql":150,"qh":290},
{"t":61,"o":100,"ol":92,"oh":108,"g":320,"gl":310,"gh":330,"d":300,"dl":290,"dh":310,"q":240,"ql":160,"qh":310},
{"t":63,"o":110,"ol":100,"oh":120,"g":470,"gl":455,"gh":485,"d":290,"dl":280,"dh":300,"q":250,"ql":160,"qh":310},
{"t":65,"o":140,"ol":125,"oh":155,"g":300,"gl":290,"gh":310,"d":330,"dl":320,"dh":340,"q":250,"ql":160,"qh":320},
{"t":67,"o":130,"ol":115,"oh":145,"g":450,"gl":435,"gh":465,"d":310,"dl":300,"dh":320,"q":240,"ql":160,"qh":320},
{"t":69,"o":150,"ol":135,"oh":165,"g":330,"gl":320,"gh":340,"d":290,"dl":280,"dh":300,"q":230,"ql":170,"qh":310},
{"t":71,"o":140,"ol":125,"oh":155,"g":430,"gl":418,"gh":442,"d":330,"dl":320,"dh":340,"q":240,"ql":170,"qh":320},
{"t":73,"o":150,"ol":135,"oh":165,"g":360,"gl":348,"gh":372,"d":300,"dl":290,"dh":310,"q":240,"ql":180,"qh":320},
{"t":75,"o":140,"ol":125,"oh":155,"g":430,"gl":418,"gh":442,"d":310,"dl":300,"dh":320,"q":260,"ql":190,"qh":330},
{"t":77,"o":170,"ol":150,"oh":190,"g":350,"gl":338,"gh":362,"d":280,"dl":270,"dh":290,"q":260,"ql":190,"qh":340},
{"t":79,"o":150,"ol":130,"oh":170,"g":420,"gl":408,"gh":432,"d":290,"dl":280,"dh":300,"q":270,"ql":190,"qh":350},
{"t":81,"o":200,"ol":160,"oh":240,"g":380,"gl":368,"gh":392,"d":270,"dl":260,"dh":280,"q":270,"ql":190,"qh":350},
{"t":82,"o":290,"ol":230,"oh":330,"g":470,"gl":455,"gh":485,"d":300,"dl":290,"dh":310,"q":280,"ql":200,"qh":360},
{"t":84,"o":230,"ol":180,"oh":290,"g":430,"gl":418,"gh":442,"d":320,"dl":310,"dh":330,"q":290,"ql":200,"qh":370},
{"t":86,"o":260,"ol":200,"oh":320,"g":550,"gl":535,"gh":565,"d":310,"dl":300,"dh":320,"q":290,"ql":200,"qh":380},
{"t":88,"o":280,"ol":220,"oh":340,"g":460,"gl":448,"gh":472,"d":330,"dl":320,"dh":340,"q":300,"ql":200,"qh":400},
{"t":90,"o":320,"ol":240,"oh":380,"g":520,"gl":505,"gh":535,"d":340,"dl":330,"dh":350,"q":310,"ql":200,"qh":420},
{"t":92,"o":300,"ol":230,"oh":400,"g":480,"gl":468,"gh":492,"d":350,"dl":340,"dh":360,"q":320,"ql":200,"qh":450},
{"t":93,"o":430,"ol":300,"oh":480,"g":500,"gl":488,"gh":512,"d":350,"dl":340,"dh":360,"q":320,"ql":200,"qh":460},
{"t":95,"o":320,"ol":240,"oh":480,"g":500,"gl":488,"gh":512,"d":370,"dl":360,"dh":380,"q":330,"ql":200,"qh":480},
{"t":97,"o":440,"ol":300,"oh":520,"g":450,"gl":438,"gh":462,"d":380,"dl":370,"dh":390,"q":330,"ql":200,"qh":500},
{"t":99,"o":300,"ol":230,"oh":450,"g":480,"gl":468,"gh":492,"d":400,"dl":390,"dh":410,"q":340,"ql":200,"qh":520},
{"t":100,"o":330,"ol":250,"oh":450,"g":690,"gl":670,"gh":735,"d":350,"dl":340,"dh":360,"q":350,"ql":210,"qh":510},
{"t":101,"o":300,"ol":240,"oh":430,"g":520,"gl":505,"gh":535,"d":360,"dl":350,"dh":370,"q":340,"ql":210,"qh":500},
{"t":102,"o":280,"ol":230,"oh":420,"g":650,"gl":630,"gh":670,"d":360,"dl":350,"dh":370,"q":340,"ql":220,"qh":480},
{"t":104,"o":300,"ol":240,"oh":420,"g":600,"gl":585,"gh":615,"d":380,"dl":370,"dh":390,"q":320,"ql":220,"qh":460},
{"t":106,"o":340,"ol":260,"oh":420,"g":560,"gl":545,"gh":575,"d":400,"dl":390,"dh":410,"q":310,"ql":210,"qh":440},
{"t":108,"o":300,"ol":250,"oh":400,"g":480,"gl":468,"gh":492,"d":430,"dl":420,"dh":440,"q":300,"ql":200,"qh":420},
{"t":109,"o":320,"ol":260,"oh":420,"g":750,"gl":720,"gh":785,"d":380,"dl":370,"dh":390,"q":300,"ql":200,"qh":420},
{"t":110,"o":350,"ol":280,"oh":420,"g":470,"gl":458,"gh":482,"d":380,"dl":370,"dh":390,"q":300,"ql":200,"qh":420},
{"t":112,"o":200,"ol":150,"oh":250,"g":420,"gl":408,"gh":432,"d":370,"dl":360,"dh":380,"q":280,"ql":200,"qh":380},
{"t":114,"o":130,"ol":100,"oh":170,"g":530,"gl":515,"gh":545,"d":350,"dl":340,"dh":360,"q":280,"ql":200,"qh":370},
{"t":116,"o":100,"ol":90,"oh":140,"g":380,"gl":368,"gh":392,"d":340,"dl":330,"dh":350,"q":290,"ql":200,"qh":370},
{"t":118,"o":110,"ol":95,"oh":170,"g":420,"gl":408,"gh":432,"d":330,"dl":320,"dh":340,"q":280,"ql":190,"qh":360},
{"t":120,"o":130,"ol":105,"oh":180,"g":380,"gl":368,"gh":392,"d":340,"dl":330,"dh":350,"q":270,"ql":190,"qh":360},
{"t":122,"o":100,"ol":90,"oh":150,"g":350,"gl":338,"gh":362,"d":320,"dl":310,"dh":330,"q":270,"ql":180,"qh":350},
{"t":124,"o":110,"ol":95,"oh":130,"g":380,"gl":368,"gh":392,"d":340,"dl":330,"dh":350,"q":280,"ql":180,"qh":350},
{"t":125,"o":105,"ol":92,"oh":125,"g":530,"gl":510,"gh":545,"d":330,"dl":320,"dh":340,"q":280,"ql":180,"qh":350},
{"t":126,"o":90,"ol":80,"oh":110,"g":350,"gl":338,"gh":362,"d":310,"dl":300,"dh":320,"q":280,"ql":180,"qh":350},
{"t":128,"o":100,"ol":88,"oh":115,"g":330,"gl":318,"gh":342,"d":320,"dl":310,"dh":330,"q":290,"ql":180,"qh":350},
{"t":130,"o":95,"ol":85,"oh":110,"g":350,"gl":338,"gh":362,"d":310,"dl":300,"dh":320,"q":290,"ql":180,"qh":340},
{"t":132,"o":100,"ol":88,"oh":115,"g":680,"gl":660,"gh":720,"d":320,"dl":310,"dh":330,"q":270,"ql":170,"qh":330},
{"t":133,"o":95,"ol":85,"oh":110,"g":400,"gl":388,"gh":412,"d":310,"dl":300,"dh":320,"q":270,"ql":170,"qh":330},
{"t":135,"o":85,"ol":75,"oh":100,"g":350,"gl":338,"gh":362,"d":300,"dl":290,"dh":310,"q":265,"ql":165,"qh":320},
{"t":138,"o":90,"ol":80,"oh":105,"g":320,"gl":308,"gh":332,"d":270,"dl":260,"dh":280,"q":260,"ql":160,"qh":310},
{"t":141,"o":90,"ol":80,"oh":105,"g":320,"gl":308,"gh":332,"d":280,"dl":270,"dh":290,"q":230,"ql":150,"qh":300},
{"t":144,"o":80,"ol":70,"oh":95,"g":300,"gl":288,"gh":312,"d":250,"dl":240,"dh":260,"q":220,"ql":150,"qh":300},
{"t":147,"o":85,"ol":75,"oh":100,"g":300,"gl":288,"gh":312,"d":260,"dl":250,"dh":270,"q":240,"ql":150,"qh":300},
{"t":150,"o":90,"ol":80,"oh":105,"g":280,"gl":268,"gh":292,"d":250,"dl":240,"dh":260,"q":220,"ql":140,"qh":290},
{"t":152,"o":60,"ol":52,"oh":68,"g":290,"gl":278,"gh":302,"d":220,"dl":210,"dh":230,"q":220,"ql":140,"qh":280},
{"t":155,"o":60,"ol":52,"oh":68,"g":270,"gl":258,"gh":282,"d":240,"dl":230,"dh":250,"q":230,"ql":140,"qh":280},
{"t":158,"o":60,"ol":52,"oh":68,"g":280,"gl":268,"gh":292,"d":220,"dl":210,"dh":230,"q":210,"ql":130,"qh":270},
{"t":161,"o":65,"ol":57,"oh":73,"g":250,"gl":238,"gh":262,"d":210,"dl":200,"dh":220,"q":200,"ql":120,"qh":260},
{"t":164,"o":70,"ol":62,"oh":78,"g":230,"gl":218,"gh":242,"d":180,"dl":170,"dh":190,"q":190,"ql":110,"qh":250},
{"t":166,"o":75,"ol":67,"oh":83,"g":350,"gl":330,"gh":365,"d":160,"dl":150,"dh":170,"q":185,"ql":110,"qh":240},
{"t":168,"o":75,"ol":67,"oh":83,"g":250,"gl":238,"gh":262,"d":190,"dl":180,"dh":200,"q":180,"ql":100,"qh":240},
{"t":171,"o":60,"ol":52,"oh":68,"g":260,"gl":248,"gh":272,"d":150,"dl":140,"dh":160,"q":165,"ql":90,"qh":230},
{"t":174,"o":50,"ol":44,"oh":56,"g":210,"gl":198,"gh":222,"d":140,"dl":130,"dh":150,"q":150,"ql":90,"qh":210},
{"t":177,"o":50,"ol":44,"oh":56,"g":230,"gl":218,"gh":242,"d":130,"dl":120,"dh":140,"q":140,"ql":80,"qh":200},
{"t":180,"o":45,"ol":39,"oh":51,"g":190,"gl":178,"gh":202,"d":120,"dl":110,"dh":130,"q":130,"ql":70,"qh":190},
{"t":183,"o":45,"ol":39,"oh":51,"g":250,"gl":235,"gh":262,"d":100,"dl":90,"dh":110,"q":115,"ql":60,"qh":170},
{"t":186,"o":40,"ol":34,"oh":46,"g":150,"gl":138,"gh":162,"d":70,"dl":62,"dh":78,"q":100,"ql":50,"qh":150},
{"t":189,"o":30,"ol":24,"oh":36,"g":130,"gl":118,"gh":142,"d":75,"dl":67,"dh":83,"q":80,"ql":40,"qh":130},
{"t":192,"o":30,"ol":24,"oh":36,"g":100,"gl":90,"gh":110,"d":70,"dl":62,"dh":78,"q":70,"ql":35,"qh":120},
{"t":195,"o":30,"ol":24,"oh":36,"g":120,"gl":110,"gh":130,"d":60,"dl":52,"dh":68,"q":60,"ql":30,"qh":110},
{"t":198,"o":30,"ol":24,"oh":36,"g":130,"gl":120,"gh":140,"d":55,"dl":47,"dh":63,"q":60,"ql":30,"qh":100},
{"t":200,"o":28,"ol":22,"oh":34,"g":90,"gl":80,"gh":100,"d":80,"dl":70,"dh":90,"q":60,"ql":30,"qh":100}
 ]},
 "encoding":{"x":{"field":"t","type":"quantitative","scale":{"domain":[-10,210],"nice":false,"zero":false},"axis":{"values":[0,25,50,75,100,125,150,175,200],"title":"Time slot(s)"}}},
 "layer":[
  {"mark":{"type":"area","opacity":0.3},"encoding":{"y":{"field":"ql","type":"quantitative","scale":{"domain":[-29,825],"nice":false,"zero":false},"axis":{"values":[0,100,200,300,400,500,600,700,800],"title":"The total time cost of tasks within each time slot(s)"}},"y2":{"field":"qh"},
   "fill":{"datum":"Confidence Interval ppo","type":"nominal","scale":{"domain":["Confidence Interval greedy","Confidence Interval ours","Confidence Interval dqn","Confidence Interval ppo"],"range":["#0000ff","#ff0000","#008000","#cc99cc"]},"legend":{"title":null,"orient":"none","legendX":6,"legendY":65,"symbolType":"M-1.22,-0.43H1.22V0.43H-1.22Z","symbolOpacity":0.3,"symbolStrokeWidth":0}}}},
  {"mark":{"type":"area","opacity":0.3},"encoding":{"y":{"field":"gl","type":"quantitative"},"y2":{"field":"gh"},"fill":{"datum":"Confidence Interval greedy","type":"nominal"}}},
  {"mark":{"type":"area","opacity":0.3},"encoding":{"y":{"field":"ol","type":"quantitative"},"y2":{"field":"oh"},"fill":{"datum":"Confidence Interval ours","type":"nominal"}}},
  {"mark":{"type":"area","opacity":0.3},"encoding":{"y":{"field":"dl","type":"quantitative"},"y2":{"field":"dh"},"fill":{"datum":"Confidence Interval dqn","type":"nominal"}}},
  {"mark":{"type":"line","strokeWidth":1.2},"encoding":{"y":{"field":"o","type":"quantitative"},"color":{"datum":"Mean Line ours","type":"nominal","scale":{"domain":["Mean Line ours","Mean Line greedy","Mean Line dqn","Mean Line ppo"],"range":["#ff0000","#0000ff","#008000","#800080"]},"legend":{"title":null,"orient":"none","legendX":6,"legendY":0,"rowPadding":0,"symbolType":"M-1.22,0H1.22","symbolStrokeWidth":1.5}}}},
  {"mark":{"type":"line","strokeWidth":1.2},"encoding":{"y":{"field":"g","type":"quantitative"},"color":{"datum":"Mean Line greedy","type":"nominal"}}},
  {"mark":{"type":"line","strokeWidth":1.2},"encoding":{"y":{"field":"d","type":"quantitative"},"color":{"datum":"Mean Line dqn","type":"nominal"}}},
  {"mark":{"type":"line","strokeWidth":1,"opacity":0.5},"encoding":{"y":{"field":"q","type":"quantitative"},"color":{"datum":"Mean Line ppo","type":"nominal"}}}
 ]}]}
]},
{"spacing":18,"resolve":{"scale":{"color":"independent","fill":"independent"},"legend":{"color":"independent","fill":"independent"}},
"hconcat":[
{"title":{"text":"(d)\u00a0 Task Arrival Pattern 4","orient":"bottom","anchor":"middle","font":"Liberation Serif","fontSize":21.7,"fontWeight":"normal","color":"#000","offset":14},
 "resolve":{"scale":{"color":"independent","fill":"independent"},"legend":{"color":"independent","fill":"independent"}},
 "vconcat":[{
 "title":"Pattern 4","width":394,"height":293,
 "data":{"values":[
{"t":0,"o":0,"ol":0,"oh":0,"g":0,"gl":0,"gh":0,"d":0,"dl":0,"dh":0,"q":0,"ql":0,"qh":0},
{"t":12,"o":0,"ol":0,"oh":0,"g":0,"gl":0,"gh":0,"d":0,"dl":0,"dh":0,"q":0,"ql":0,"qh":0},
{"t":13,"o":5,"ol":2,"oh":8,"g":5,"gl":2,"gh":8,"d":5,"dl":2,"dh":8,"q":5,"ql":0,"qh":20},
{"t":16,"o":5,"ol":2,"oh":8,"g":15,"gl":10,"gh":20,"d":10,"dl":5,"dh":15,"q":10,"ql":0,"qh":30},
{"t":20,"o":8,"ol":4,"oh":12,"g":15,"gl":10,"gh":20,"d":20,"dl":14,"dh":26,"q":15,"ql":0,"qh":40},
{"t":22,"o":8,"ol":4,"oh":12,"g":20,"gl":14,"gh":26,"d":60,"dl":50,"dh":70,"q":18,"ql":0,"qh":40},
{"t":24,"o":10,"ol":6,"oh":14,"g":20,"gl":14,"gh":26,"d":10,"dl":5,"dh":15,"q":20,"ql":5,"qh":40},
{"t":26,"o":8,"ol":4,"oh":12,"g":25,"gl":19,"gh":31,"d":30,"dl":24,"dh":36,"q":25,"ql":5,"qh":60},
{"t":28,"o":8,"ol":4,"oh":12,"g":25,"gl":19,"gh":31,"d":20,"dl":14,"dh":26,"q":25,"ql":5,"qh":50},
{"t":30,"o":10,"ol":6,"oh":14,"g":20,"gl":14,"gh":26,"d":40,"dl":34,"dh":46,"q":30,"ql":5,"qh":110},
{"t":32,"o":10,"ol":6,"oh":14,"g":20,"gl":14,"gh":26,"d":15,"dl":10,"dh":20,"q":30,"ql":5,"qh":70},
{"t":34,"o":12,"ol":8,"oh":16,"g":30,"gl":24,"gh":36,"d":58,"dl":50,"dh":66,"q":28,"ql":5,"qh":60},
{"t":36,"o":12,"ol":8,"oh":16,"g":25,"gl":19,"gh":31,"d":20,"dl":14,"dh":26,"q":25,"ql":5,"qh":50},
{"t":38,"o":13,"ol":9,"oh":17,"g":30,"gl":24,"gh":36,"d":30,"dl":24,"dh":36,"q":30,"ql":5,"qh":60},
{"t":40,"o":15,"ol":11,"oh":19,"g":30,"gl":24,"gh":36,"d":20,"dl":14,"dh":26,"q":30,"ql":5,"qh":55},
{"t":44,"o":15,"ol":11,"oh":19,"g":25,"gl":19,"gh":31,"d":15,"dl":10,"dh":20,"q":20,"ql":5,"qh":45},
{"t":46,"o":10,"ol":6,"oh":14,"g":10,"gl":6,"gh":14,"d":10,"dl":6,"dh":14,"q":20,"ql":5,"qh":40},
{"t":48,"o":30,"ol":24,"oh":36,"g":50,"gl":42,"gh":58,"d":160,"dl":140,"dh":200,"q":40,"ql":10,"qh":80},
{"t":49,"o":35,"ol":29,"oh":41,"g":60,"gl":52,"gh":68,"d":60,"dl":50,"dh":70,"q":40,"ql":10,"qh":80},
{"t":52,"o":25,"ol":19,"oh":31,"g":80,"gl":72,"gh":88,"d":70,"dl":62,"dh":78,"q":50,"ql":15,"qh":100},
{"t":54,"o":35,"ol":29,"oh":41,"g":50,"gl":42,"gh":58,"d":40,"dl":34,"dh":46,"q":55,"ql":15,"qh":110},
{"t":56,"o":30,"ol":24,"oh":36,"g":90,"gl":82,"gh":98,"d":60,"dl":52,"dh":68,"q":60,"ql":20,"qh":120},
{"t":58,"o":30,"ol":24,"oh":36,"g":70,"gl":62,"gh":78,"d":80,"dl":72,"dh":88,"q":60,"ql":20,"qh":130},
{"t":60,"o":35,"ol":29,"oh":41,"g":80,"gl":72,"gh":88,"d":50,"dl":42,"dh":58,"q":70,"ql":20,"qh":140},
{"t":62,"o":25,"ol":19,"oh":31,"g":70,"gl":62,"gh":78,"d":60,"dl":52,"dh":68,"q":70,"ql":25,"qh":150},
{"t":64,"o":40,"ol":34,"oh":46,"g":100,"gl":92,"gh":108,"d":80,"dl":72,"dh":88,"q":80,"ql":30,"qh":170},
{"t":66,"o":45,"ol":39,"oh":51,"g":130,"gl":120,"gh":140,"d":100,"dl":92,"dh":108,"q":85,"ql":35,"qh":190},
{"t":68,"o":40,"ol":34,"oh":46,"g":140,"gl":130,"gh":150,"d":150,"dl":140,"dh":160,"q":90,"ql":40,"qh":200},
{"t":70,"o":45,"ol":39,"oh":51,"g":110,"gl":100,"gh":120,"d":130,"dl":120,"dh":140,"q":100,"ql":40,"qh":200},
{"t":72,"o":40,"ol":34,"oh":46,"g":130,"gl":120,"gh":140,"d":110,"dl":100,"dh":120,"q":100,"ql":50,"qh":210},
{"t":74,"o":35,"ol":29,"oh":41,"g":120,"gl":110,"gh":130,"d":130,"dl":120,"dh":140,"q":110,"ql":60,"qh":220},
{"t":76,"o":50,"ol":44,"oh":56,"g":150,"gl":140,"gh":160,"d":120,"dl":110,"dh":130,"q":120,"ql":70,"qh":230},
{"t":78,"o":55,"ol":49,"oh":61,"g":170,"gl":160,"gh":180,"d":160,"dl":150,"dh":170,"q":130,"ql":80,"qh":230},
{"t":80,"o":60,"ol":54,"oh":66,"g":180,"gl":170,"gh":190,"d":140,"dl":130,"dh":150,"q":140,"ql":80,"qh":240},
{"t":82,"o":70,"ol":64,"oh":76,"g":210,"gl":200,"gh":220,"d":180,"dl":170,"dh":190,"q":150,"ql":90,"qh":250},
{"t":84,"o":65,"ol":59,"oh":71,"g":190,"gl":180,"gh":200,"d":170,"dl":160,"dh":180,"q":160,"ql":100,"qh":260},
{"t":86,"o":75,"ol":69,"oh":81,"g":220,"gl":210,"gh":230,"d":190,"dl":180,"dh":200,"q":170,"ql":100,"qh":270},
{"t":88,"o":70,"ol":64,"oh":76,"g":200,"gl":190,"gh":210,"d":180,"dl":170,"dh":190,"q":180,"ql":100,"qh":280},
{"t":90,"o":80,"ol":74,"oh":86,"g":180,"gl":170,"gh":190,"d":170,"dl":160,"dh":180,"q":185,"ql":110,"qh":290},
{"t":92,"o":75,"ol":69,"oh":81,"g":220,"gl":210,"gh":230,"d":190,"dl":180,"dh":200,"q":190,"ql":110,"qh":300},
{"t":94,"o":85,"ol":79,"oh":91,"g":250,"gl":240,"gh":260,"d":200,"dl":190,"dh":210,"q":210,"ql":130,"qh":320},
{"t":96,"o":90,"ol":84,"oh":96,"g":310,"gl":298,"gh":322,"d":250,"dl":240,"dh":260,"q":230,"ql":150,"qh":340},
{"t":98,"o":95,"ol":89,"oh":101,"g":320,"gl":308,"gh":332,"d":270,"dl":260,"dh":280,"q":240,"ql":160,"qh":350},
{"t":100,"o":90,"ol":84,"oh":96,"g":330,"gl":318,"gh":342,"d":280,"dl":270,"dh":290,"q":250,"ql":170,"qh":360},
{"t":102,"o":95,"ol":89,"oh":101,"g":460,"gl":445,"gh":475,"d":260,"dl":250,"dh":270,"q":260,"ql":180,"qh":380},
{"t":103,"o":95,"ol":89,"oh":101,"g":320,"gl":308,"gh":332,"d":260,"dl":250,"dh":270,"q":265,"ql":180,"qh":380},
{"t":106,"o":90,"ol":84,"oh":96,"g":330,"gl":318,"gh":342,"d":240,"dl":230,"dh":250,"q":280,"ql":190,"qh":400},
{"t":108,"o":95,"ol":89,"oh":101,"g":360,"gl":348,"gh":372,"d":220,"dl":210,"dh":230,"q":300,"ql":200,"qh":420},
{"t":110,"o":100,"ol":94,"oh":106,"g":400,"gl":388,"gh":412,"d":260,"dl":250,"dh":270,"q":320,"ql":210,"qh":440},
{"t":112,"o":90,"ol":84,"oh":96,"g":350,"gl":338,"gh":362,"d":230,"dl":220,"dh":240,"q":340,"ql":220,"qh":460},
{"t":114,"o":110,"ol":104,"oh":116,"g":390,"gl":378,"gh":402,"d":250,"dl":240,"dh":260,"q":350,"ql":230,"qh":480},
{"t":116,"o":100,"ol":94,"oh":106,"g":370,"gl":358,"gh":382,"d":240,"dl":230,"dh":250,"q":360,"ql":230,"qh":490},
{"t":118,"o":105,"ol":99,"oh":111,"g":380,"gl":368,"gh":392,"d":260,"dl":250,"dh":270,"q":365,"ql":230,"qh":500},
{"t":120,"o":130,"ol":115,"oh":145,"g":330,"gl":318,"gh":342,"d":270,"dl":260,"dh":280,"q":370,"ql":240,"qh":500},
{"t":122,"o":110,"ol":95,"oh":125,"g":440,"gl":428,"gh":452,"d":250,"dl":240,"dh":260,"q":375,"ql":240,"qh":520},
{"t":124,"o":140,"ol":125,"oh":160,"g":300,"gl":288,"gh":312,"d":260,"dl":250,"dh":270,"q":380,"ql":250,"qh":530},
{"t":126,"o":120,"ol":105,"oh":140,"g":380,"gl":368,"gh":392,"d":280,"dl":270,"dh":290,"q":360,"ql":250,"qh":560},
{"t":128,"o":135,"ol":120,"oh":155,"g":470,"gl":455,"gh":485,"d":240,"dl":230,"dh":250,"q":350,"ql":250,"qh":600},
{"t":130,"o":110,"ol":95,"oh":130,"g":350,"gl":338,"gh":362,"d":230,"dl":220,"dh":240,"q":380,"ql":260,"qh":560},
{"t":132,"o":120,"ol":105,"oh":140,"g":380,"gl":368,"gh":392,"d":250,"dl":240,"dh":260,"q":400,"ql":270,"qh":580},
{"t":134,"o":135,"ol":120,"oh":160,"g":350,"gl":338,"gh":362,"d":280,"dl":270,"dh":290,"q":410,"ql":280,"qh":620},
{"t":136,"o":150,"ol":130,"oh":180,"g":400,"gl":388,"gh":412,"d":290,"dl":280,"dh":300,"q":420,"ql":290,"qh":640},
{"t":138,"o":160,"ol":135,"oh":200,"g":330,"gl":318,"gh":342,"d":260,"dl":250,"dh":270,"q":440,"ql":300,"qh":660},
{"t":140,"o":180,"ol":140,"oh":240,"g":480,"gl":468,"gh":492,"d":310,"dl":300,"dh":320,"q":460,"ql":310,"qh":690},
{"t":142,"o":240,"ol":190,"oh":290,"g":420,"gl":408,"gh":432,"d":300,"dl":290,"dh":310,"q":465,"ql":320,"qh":700},
{"t":144,"o":200,"ol":160,"oh":250,"g":520,"gl":505,"gh":535,"d":320,"dl":310,"dh":330,"q":470,"ql":340,"qh":720},
{"t":146,"o":230,"ol":180,"oh":280,"g":480,"gl":468,"gh":492,"d":350,"dl":340,"dh":360,"q":480,"ql":340,"qh":700},
{"t":148,"o":270,"ol":210,"oh":320,"g":500,"gl":488,"gh":512,"d":370,"dl":360,"dh":380,"q":500,"ql":330,"qh":660},
{"t":150,"o":200,"ol":160,"oh":260,"g":420,"gl":408,"gh":432,"d":350,"dl":340,"dh":360,"q":500,"ql":320,"qh":640},
{"t":152,"o":260,"ol":200,"oh":320,"g":540,"gl":525,"gh":555,"d":360,"dl":350,"dh":370,"q":520,"ql":340,"qh":680},
{"t":154,"o":310,"ol":250,"oh":350,"g":600,"gl":580,"gh":630,"d":340,"dl":330,"dh":350,"q":510,"ql":350,"qh":740},
{"t":156,"o":230,"ol":180,"oh":290,"g":450,"gl":438,"gh":462,"d":370,"dl":360,"dh":380,"q":480,"ql":330,"qh":660},
{"t":158,"o":280,"ol":220,"oh":320,"g":560,"gl":545,"gh":575,"d":360,"dl":350,"dh":370,"q":470,"ql":320,"qh":640},
{"t":160,"o":200,"ol":160,"oh":260,"g":430,"gl":418,"gh":442,"d":350,"dl":340,"dh":360,"q":450,"ql":320,"qh":620},
{"t":162,"o":180,"ol":150,"oh":220,"g":480,"gl":468,"gh":492,"d":370,"dl":360,"dh":380,"q":430,"ql":300,"qh":600},
{"t":164,"o":190,"ol":160,"oh":230,"g":400,"gl":388,"gh":412,"d":300,"dl":290,"dh":310,"q":420,"ql":280,"qh":580},
{"t":166,"o":150,"ol":125,"oh":180,"g":440,"gl":428,"gh":452,"d":290,"dl":280,"dh":300,"q":425,"ql":280,"qh":570},
{"t":168,"o":160,"ol":135,"oh":190,"g":380,"gl":368,"gh":392,"d":310,"dl":300,"dh":320,"q":430,"ql":270,"qh":560},
{"t":170,"o":130,"ol":110,"oh":160,"g":500,"gl":488,"gh":512,"d":280,"dl":270,"dh":290,"q":400,"ql":250,"qh":540},
{"t":172,"o":120,"ol":100,"oh":145,"g":400,"gl":388,"gh":412,"d":300,"dl":290,"dh":310,"q":380,"ql":240,"qh":530},
{"t":174,"o":140,"ol":120,"oh":160,"g":420,"gl":408,"gh":432,"d":270,"dl":260,"dh":280,"q":390,"ql":240,"qh":520},
{"t":176,"o":130,"ol":110,"oh":150,"g":390,"gl":378,"gh":402,"d":310,"dl":300,"dh":320,"q":400,"ql":230,"qh":510},
{"t":178,"o":110,"ol":95,"oh":130,"g":460,"gl":448,"gh":472,"d":290,"dl":280,"dh":300,"q":380,"ql":230,"qh":500},
{"t":180,"o":110,"ol":95,"oh":130,"g":400,"gl":388,"gh":412,"d":270,"dl":260,"dh":280,"q":370,"ql":230,"qh":500},
{"t":182,"o":120,"ol":100,"oh":140,"g":420,"gl":408,"gh":432,"d":320,"dl":310,"dh":330,"q":360,"ql":220,"qh":480},
{"t":184,"o":100,"ol":85,"oh":120,"g":370,"gl":358,"gh":382,"d":280,"dl":270,"dh":290,"q":350,"ql":210,"qh":470},
{"t":186,"o":120,"ol":100,"oh":140,"g":430,"gl":418,"gh":442,"d":250,"dl":240,"dh":260,"q":340,"ql":200,"qh":460},
{"t":188,"o":100,"ol":85,"oh":115,"g":360,"gl":348,"gh":372,"d":260,"dl":250,"dh":270,"q":330,"ql":200,"qh":450},
{"t":190,"o":90,"ol":80,"oh":105,"g":350,"gl":338,"gh":362,"d":220,"dl":210,"dh":230,"q":335,"ql":200,"qh":440},
{"t":192,"o":95,"ol":85,"oh":110,"g":410,"gl":398,"gh":422,"d":280,"dl":270,"dh":290,"q":340,"ql":190,"qh":450},
{"t":194,"o":100,"ol":88,"oh":115,"g":330,"gl":318,"gh":342,"d":230,"dl":220,"dh":240,"q":320,"ql":180,"qh":440},
{"t":196,"o":115,"ol":100,"oh":130,"g":380,"gl":368,"gh":392,"d":290,"dl":280,"dh":300,"q":310,"ql":170,"qh":460},
{"t":198,"o":95,"ol":85,"oh":110,"g":350,"gl":338,"gh":362,"d":260,"dl":250,"dh":270,"q":300,"ql":170,"qh":450},
{"t":200,"o":80,"ol":72,"oh":90,"g":340,"gl":328,"gh":352,"d":240,"dl":230,"dh":250,"q":290,"ql":160,"qh":470}
 ]},
 "encoding":{"x":{"field":"t","type":"quantitative","scale":{"domain":[-10,210],"nice":false,"zero":false},"axis":{"values":[0,25,50,75,100,125,150,175,200],"title":"Time slot(s)"}}},
 "layer":[
  {"mark":{"type":"area","opacity":0.3},"encoding":{"y":{"field":"ql","type":"quantitative","scale":{"domain":[-37,777],"nice":false,"zero":false},"axis":{"values":[0,100,200,300,400,500,600,700],"title":"The total time cost of tasks within each time slot(s)"}},"y2":{"field":"qh"},
   "fill":{"datum":"Confidence Interval ppo","type":"nominal","scale":{"domain":["Confidence Interval greedy","Confidence Interval ours","Confidence Interval dqn","Confidence Interval ppo"],"range":["#0000ff","#ff0000","#008000","#cc99cc"]},"legend":{"title":null,"orient":"none","legendX":6,"legendY":65,"symbolType":"M-1.22,-0.43H1.22V0.43H-1.22Z","symbolOpacity":0.3,"symbolStrokeWidth":0}}}},
  {"mark":{"type":"area","opacity":0.3},"encoding":{"y":{"field":"gl","type":"quantitative"},"y2":{"field":"gh"},"fill":{"datum":"Confidence Interval greedy","type":"nominal"}}},
  {"mark":{"type":"area","opacity":0.3},"encoding":{"y":{"field":"ol","type":"quantitative"},"y2":{"field":"oh"},"fill":{"datum":"Confidence Interval ours","type":"nominal"}}},
  {"mark":{"type":"area","opacity":0.3},"encoding":{"y":{"field":"dl","type":"quantitative"},"y2":{"field":"dh"},"fill":{"datum":"Confidence Interval dqn","type":"nominal"}}},
  {"mark":{"type":"line","strokeWidth":1.2},"encoding":{"y":{"field":"o","type":"quantitative"},"color":{"datum":"Mean Line ours","type":"nominal","scale":{"domain":["Mean Line ours","Mean Line greedy","Mean Line dqn","Mean Line ppo"],"range":["#ff0000","#0000ff","#008000","#800080"]},"legend":{"title":null,"orient":"none","legendX":6,"legendY":0,"rowPadding":0,"symbolType":"M-1.22,0H1.22","symbolStrokeWidth":1.5}}}},
  {"mark":{"type":"line","strokeWidth":1.2},"encoding":{"y":{"field":"g","type":"quantitative"},"color":{"datum":"Mean Line greedy","type":"nominal"}}},
  {"mark":{"type":"line","strokeWidth":1.2},"encoding":{"y":{"field":"d","type":"quantitative"},"color":{"datum":"Mean Line dqn","type":"nominal"}}},
  {"mark":{"type":"line","strokeWidth":1,"opacity":0.5},"encoding":{"y":{"field":"q","type":"quantitative"},"color":{"datum":"Mean Line ppo","type":"nominal"}}}
 ]}]},
{"title":{"text":"(e)\u00a0 Task Arrival Pattern 5","orient":"bottom","anchor":"middle","font":"Liberation Serif","fontSize":21.7,"fontWeight":"normal","color":"#000","offset":14},
 "resolve":{"scale":{"color":"independent","fill":"independent"},"legend":{"color":"independent","fill":"independent"}},
 "vconcat":[{
 "title":"Pattern 5","width":393,"height":293,
 "data":{"values":[
{"t":0,"o":0,"ol":0,"oh":0,"g":0,"gl":0,"gh":0,"d":0,"dl":0,"dh":0,"q":0,"ql":0,"qh":0},
{"t":63,"o":0,"ol":0,"oh":0,"g":0,"gl":0,"gh":0,"d":0,"dl":0,"dh":0,"q":0,"ql":0,"qh":0},
{"t":66,"o":5,"ol":2,"oh":8,"g":10,"gl":6,"gh":14,"d":10,"dl":6,"dh":14,"q":5,"ql":0,"qh":15},
{"t":68,"o":5,"ol":2,"oh":8,"g":15,"gl":10,"gh":20,"d":15,"dl":10,"dh":20,"q":5,"ql":0,"qh":15},
{"t":70,"o":5,"ol":2,"oh":8,"g":20,"gl":14,"gh":26,"d":5,"dl":2,"dh":8,"q":8,"ql":0,"qh":20},
{"t":72,"o":6,"ol":3,"oh":9,"g":10,"gl":6,"gh":14,"d":20,"dl":14,"dh":26,"q":8,"ql":0,"qh":20},
{"t":74,"o":8,"ol":4,"oh":12,"g":25,"gl":19,"gh":31,"d":15,"dl":10,"dh":20,"q":10,"ql":0,"qh":25},
{"t":76,"o":8,"ol":4,"oh":12,"g":20,"gl":14,"gh":26,"d":10,"dl":6,"dh":14,"q":10,"ql":0,"qh":25},
{"t":78,"o":10,"ol":6,"oh":14,"g":15,"gl":10,"gh":20,"d":20,"dl":14,"dh":26,"q":12,"ql":0,"qh":30},
{"t":80,"o":10,"ol":6,"oh":14,"g":25,"gl":19,"gh":31,"d":10,"dl":6,"dh":14,"q":12,"ql":0,"qh":30},
{"t":82,"o":12,"ol":8,"oh":16,"g":15,"gl":10,"gh":20,"d":80,"dl":70,"dh":90,"q":10,"ql":0,"qh":40},
{"t":84,"o":12,"ol":8,"oh":16,"g":30,"gl":24,"gh":36,"d":15,"dl":10,"dh":20,"q":12,"ql":0,"qh":35},
{"t":86,"o":10,"ol":6,"oh":14,"g":25,"gl":19,"gh":31,"d":30,"dl":24,"dh":36,"q":15,"ql":0,"qh":40},
{"t":87,"o":12,"ol":8,"oh":16,"g":30,"gl":24,"gh":36,"d":58,"dl":50,"dh":66,"q":18,"ql":0,"qh":40},
{"t":88,"o":15,"ol":11,"oh":19,"g":30,"gl":24,"gh":36,"d":10,"dl":6,"dh":14,"q":20,"ql":2,"qh":40},
{"t":90,"o":15,"ol":11,"oh":19,"g":20,"gl":14,"gh":26,"d":15,"dl":10,"dh":20,"q":20,"ql":2,"qh":40},
{"t":92,"o":18,"ol":14,"oh":22,"g":25,"gl":19,"gh":31,"d":20,"dl":14,"dh":26,"q":22,"ql":5,"qh":45},
{"t":94,"o":20,"ol":16,"oh":24,"g":40,"gl":34,"gh":46,"d":15,"dl":10,"dh":20,"q":25,"ql":5,"qh":45},
{"t":96,"o":30,"ol":24,"oh":36,"g":50,"gl":44,"gh":56,"d":80,"dl":70,"dh":90,"q":28,"ql":8,"qh":50},
{"t":98,"o":40,"ol":34,"oh":46,"g":45,"gl":39,"gh":51,"d":60,"dl":52,"dh":68,"q":30,"ql":10,"qh":55},
{"t":99,"o":35,"ol":29,"oh":41,"g":70,"gl":62,"gh":78,"d":165,"dl":140,"dh":180,"q":32,"ql":10,"qh":60},
{"t":101,"o":40,"ol":34,"oh":46,"g":80,"gl":72,"gh":88,"d":40,"dl":34,"dh":46,"q":35,"ql":12,"qh":60},
{"t":103,"o":30,"ol":24,"oh":36,"g":70,"gl":62,"gh":78,"d":60,"dl":52,"dh":68,"q":38,"ql":12,"qh":65},
{"t":105,"o":40,"ol":34,"oh":46,"g":90,"gl":82,"gh":98,"d":100,"dl":92,"dh":108,"q":35,"ql":12,"qh":65},
{"t":107,"o":30,"ol":24,"oh":36,"g":60,"gl":52,"gh":68,"d":50,"dl":42,"dh":58,"q":38,"ql":12,"qh":70},
{"t":109,"o":25,"ol":19,"oh":31,"g":85,"gl":77,"gh":93,"d":90,"dl":82,"dh":98,"q":40,"ql":15,"qh":75},
{"t":111,"o":35,"ol":29,"oh":41,"g":70,"gl":62,"gh":78,"d":60,"dl":52,"dh":68,"q":45,"ql":15,"qh":80},
{"t":113,"o":20,"ol":14,"oh":26,"g":80,"gl":72,"gh":88,"d":80,"dl":72,"dh":88,"q":50,"ql":20,"qh":90},
{"t":115,"o":45,"ol":39,"oh":51,"g":50,"gl":42,"gh":58,"d":40,"dl":34,"dh":46,"q":55,"ql":20,"qh":100},
{"t":117,"o":40,"ol":34,"oh":46,"g":150,"gl":140,"gh":160,"d":100,"dl":92,"dh":108,"q":60,"ql":25,"qh":110},
{"t":119,"o":45,"ol":39,"oh":51,"g":270,"gl":255,"gh":285,"d":140,"dl":130,"dh":150,"q":65,"ql":25,"qh":115},
{"t":120,"o":40,"ol":34,"oh":46,"g":110,"gl":100,"gh":120,"d":130,"dl":120,"dh":140,"q":70,"ql":30,"qh":120},
{"t":122,"o":45,"ol":39,"oh":51,"g":150,"gl":140,"gh":160,"d":120,"dl":110,"dh":130,"q":70,"ql":30,"qh":120},
{"t":124,"o":40,"ol":34,"oh":46,"g":100,"gl":90,"gh":110,"d":150,"dl":140,"dh":160,"q":65,"ql":30,"qh":120},
{"t":126,"o":35,"ol":29,"oh":41,"g":140,"gl":130,"gh":150,"d":110,"dl":100,"dh":120,"q":60,"ql":30,"qh":130},
{"t":128,"o":40,"ol":34,"oh":46,"g":120,"gl":110,"gh":130,"d":140,"dl":130,"dh":150,"q":65,"ql":35,"qh":140},
{"t":130,"o":50,"ol":44,"oh":56,"g":180,"gl":170,"gh":190,"d":120,"dl":110,"dh":130,"q":70,"ql":40,"qh":150},
{"t":132,"o":55,"ol":49,"oh":61,"g":110,"gl":100,"gh":120,"d":150,"dl":140,"dh":160,"q":80,"ql":50,"qh":150},
{"t":134,"o":60,"ol":54,"oh":66,"g":140,"gl":130,"gh":150,"d":200,"dl":190,"dh":210,"q":90,"ql":55,"qh":160},
{"t":135,"o":60,"ol":54,"oh":66,"g":200,"gl":190,"gh":210,"d":295,"dl":280,"dh":305,"q":85,"ql":55,"qh":160},
{"t":136,"o":65,"ol":59,"oh":71,"g":210,"gl":200,"gh":220,"d":210,"dl":200,"dh":220,"q":80,"ql":50,"qh":160},
{"t":138,"o":70,"ol":64,"oh":76,"g":220,"gl":210,"gh":230,"d":230,"dl":220,"dh":240,"q":110,"ql":70,"qh":170},
{"t":140,"o":60,"ol":54,"oh":66,"g":180,"gl":170,"gh":190,"d":200,"dl":190,"dh":210,"q":100,"ql":65,"qh":170},
{"t":142,"o":75,"ol":69,"oh":81,"g":420,"gl":400,"gh":440,"d":180,"dl":170,"dh":190,"q":90,"ql":60,"qh":170},
{"t":144,"o":70,"ol":64,"oh":76,"g":220,"gl":210,"gh":230,"d":240,"dl":230,"dh":250,"q":110,"ql":70,"qh":180},
{"t":146,"o":80,"ol":74,"oh":86,"g":200,"gl":190,"gh":210,"d":230,"dl":220,"dh":240,"q":100,"ql":70,"qh":180},
{"t":147,"o":80,"ol":74,"oh":86,"g":500,"gl":480,"gh":530,"d":220,"dl":210,"dh":230,"q":110,"ql":70,"qh":180},
{"t":149,"o":85,"ol":79,"oh":91,"g":310,"gl":300,"gh":320,"d":250,"dl":240,"dh":260,"q":130,"ql":80,"qh":190},
{"t":151,"o":90,"ol":84,"oh":96,"g":460,"gl":445,"gh":475,"d":260,"dl":250,"dh":270,"q":120,"ql":80,"qh":190},
{"t":153,"o":85,"ol":79,"oh":91,"g":250,"gl":240,"gh":260,"d":240,"dl":230,"dh":250,"q":150,"ql":90,"qh":200},
{"t":155,"o":95,"ol":89,"oh":101,"g":380,"gl":365,"gh":395,"d":270,"dl":260,"dh":280,"q":110,"ql":80,"qh":190},
{"t":157,"o":90,"ol":84,"oh":96,"g":270,"gl":260,"gh":280,"d":250,"dl":240,"dh":260,"q":140,"ql":90,"qh":200},
{"t":159,"o":95,"ol":89,"oh":101,"g":310,"gl":300,"gh":320,"d":290,"dl":280,"dh":300,"q":100,"ql":80,"qh":200},
{"t":161,"o":100,"ol":94,"oh":106,"g":360,"gl":348,"gh":372,"d":260,"dl":250,"dh":270,"q":130,"ql":90,"qh":220},
{"t":163,"o":90,"ol":84,"oh":96,"g":400,"gl":388,"gh":412,"d":300,"dl":290,"dh":310,"q":120,"ql":90,"qh":220},
{"t":165,"o":110,"ol":102,"oh":118,"g":570,"gl":550,"gh":615,"d":280,"dl":270,"dh":290,"q":150,"ql":100,"qh":240},
{"t":166,"o":100,"ol":92,"oh":108,"g":300,"gl":288,"gh":312,"d":260,"dl":250,"dh":270,"q":130,"ql":100,"qh":250},
{"t":168,"o":115,"ol":107,"oh":123,"g":250,"gl":240,"gh":260,"d":290,"dl":280,"dh":300,"q":160,"ql":110,"qh":270},
{"t":170,"o":120,"ol":112,"oh":128,"g":540,"gl":520,"gh":560,"d":270,"dl":260,"dh":280,"q":200,"ql":120,"qh":280},
{"t":172,"o":110,"ol":102,"oh":118,"g":270,"gl":260,"gh":280,"d":300,"dl":290,"dh":310,"q":160,"ql":120,"qh":290},
{"t":174,"o":130,"ol":120,"oh":140,"g":330,"gl":318,"gh":342,"d":280,"dl":270,"dh":290,"q":180,"ql":130,"qh":290},
{"t":176,"o":125,"ol":115,"oh":135,"g":300,"gl":288,"gh":312,"d":270,"dl":260,"dh":280,"q":200,"ql":130,"qh":300},
{"t":178,"o":140,"ol":130,"oh":150,"g":250,"gl":240,"gh":260,"d":250,"dl":240,"dh":260,"q":170,"ql":130,"qh":290},
{"t":179,"o":135,"ol":125,"oh":145,"g":500,"gl":485,"gh":520,"d":270,"dl":260,"dh":280,"q":175,"ql":130,"qh":290},
{"t":181,"o":130,"ol":120,"oh":140,"g":300,"gl":288,"gh":312,"d":290,"dl":280,"dh":300,"q":210,"ql":140,"qh":300},
{"t":183,"o":115,"ol":105,"oh":125,"g":350,"gl":338,"gh":362,"d":310,"dl":300,"dh":320,"q":160,"ql":130,"qh":300},
{"t":185,"o":140,"ol":130,"oh":150,"g":280,"gl":268,"gh":292,"d":280,"dl":270,"dh":290,"q":190,"ql":140,"qh":300},
{"t":187,"o":130,"ol":115,"oh":145,"g":300,"gl":288,"gh":312,"d":300,"dl":290,"dh":310,"q":200,"ql":150,"qh":300},
{"t":189,"o":150,"ol":130,"oh":170,"g":510,"gl":495,"gh":525,"d":310,"dl":300,"dh":320,"q":180,"ql":140,"qh":300},
{"t":190,"o":170,"ol":140,"oh":200,"g":400,"gl":388,"gh":412,"d":330,"dl":320,"dh":340,"q":230,"ql":150,"qh":310},
{"t":192,"o":200,"ol":160,"oh":240,"g":380,"gl":368,"gh":392,"d":300,"dl":290,"dh":310,"q":210,"ql":140,"qh":320},
{"t":194,"o":220,"ol":180,"oh":270,"g":360,"gl":348,"gh":372,"d":350,"dl":340,"dh":360,"q":250,"ql":150,"qh":320},
{"t":196,"o":190,"ol":150,"oh":240,"g":340,"gl":328,"gh":352,"d":310,"dl":300,"dh":320,"q":230,"ql":140,"qh":330},
{"t":198,"o":350,"ol":250,"oh":450,"g":350,"gl":338,"gh":362,"d":300,"dl":290,"dh":310,"q":240,"ql":140,"qh":320},
{"t":199,"o":280,"ol":200,"oh":380,"g":360,"gl":345,"gh":375,"d":320,"dl":310,"dh":330,"q":235,"ql":140,"qh":330},
{"t":200,"o":240,"ol":180,"oh":300,"g":665,"gl":640,"gh":710,"d":330,"dl":320,"dh":340,"q":230,"ql":140,"qh":330}
 ]},
 "encoding":{"x":{"field":"t","type":"quantitative","scale":{"domain":[-10,210],"nice":false,"zero":false},"axis":{"values":[0,25,50,75,100,125,150,175,200],"title":"Time slot(s)"}}},
 "layer":[
  {"mark":{"type":"area","opacity":0.3},"encoding":{"y":{"field":"ql","type":"quantitative","scale":{"domain":[-35.5,745.5],"nice":false,"zero":false},"axis":{"values":[0,100,200,300,400,500,600,700],"title":"The total time cost of tasks within each time slot(s)"}},"y2":{"field":"qh"},
   "fill":{"datum":"Confidence Interval ppo","type":"nominal","scale":{"domain":["Confidence Interval greedy","Confidence Interval ours","Confidence Interval dqn","Confidence Interval ppo"],"range":["#0000ff","#ff0000","#008000","#cc99cc"]},"legend":{"title":null,"orient":"none","legendX":6,"legendY":65,"symbolType":"M-1.22,-0.43H1.22V0.43H-1.22Z","symbolOpacity":0.3,"symbolStrokeWidth":0}}}},
  {"mark":{"type":"area","opacity":0.3},"encoding":{"y":{"field":"gl","type":"quantitative"},"y2":{"field":"gh"},"fill":{"datum":"Confidence Interval greedy","type":"nominal"}}},
  {"mark":{"type":"area","opacity":0.3},"encoding":{"y":{"field":"ol","type":"quantitative"},"y2":{"field":"oh"},"fill":{"datum":"Confidence Interval ours","type":"nominal"}}},
  {"mark":{"type":"area","opacity":0.3},"encoding":{"y":{"field":"dl","type":"quantitative"},"y2":{"field":"dh"},"fill":{"datum":"Confidence Interval dqn","type":"nominal"}}},
  {"mark":{"type":"line","strokeWidth":1.2},"encoding":{"y":{"field":"o","type":"quantitative"},"color":{"datum":"Mean Line ours","type":"nominal","scale":{"domain":["Mean Line ours","Mean Line greedy","Mean Line dqn","Mean Line ppo"],"range":["#ff0000","#0000ff","#008000","#800080"]},"legend":{"title":null,"orient":"none","legendX":6,"legendY":0,"rowPadding":0,"symbolType":"M-1.22,0H1.22","symbolStrokeWidth":1.5}}}},
  {"mark":{"type":"line","strokeWidth":1.2},"encoding":{"y":{"field":"g","type":"quantitative"},"color":{"datum":"Mean Line greedy","type":"nominal"}}},
  {"mark":{"type":"line","strokeWidth":1.2},"encoding":{"y":{"field":"d","type":"quantitative"},"color":{"datum":"Mean Line dqn","type":"nominal"}}},
  {"mark":{"type":"line","strokeWidth":1,"opacity":0.5},"encoding":{"y":{"field":"q","type":"quantitative"},"color":{"datum":"Mean Line ppo","type":"nominal"}}}
 ]}]},
{"title":{"text":"(f)\u00a0 Task Arrival Pattern 6","orient":"bottom","anchor":"middle","font":"Liberation Serif","fontSize":21.7,"fontWeight":"normal","color":"#000","offset":14},
 "resolve":{"scale":{"color":"independent","fill":"independent"},"legend":{"color":"independent","fill":"independent"}},
 "vconcat":[{
 "title":"Pattern 6","width":394,"height":293,
 "data":{"values":[
{"t":0,"o":5,"ol":0,"oh":10,"g":5,"gl":0,"gh":15,"d":5,"dl":0,"dh":12,"q":5,"ql":0,"qh":20},
{"t":4,"o":5,"ol":0,"oh":10,"g":20,"gl":5,"gh":35,"d":10,"dl":0,"dh":20,"q":10,"ql":0,"qh":30},
{"t":8,"o":15,"ol":5,"oh":25,"g":30,"gl":10,"gh":50,"d":20,"dl":5,"dh":35,"q":30,"ql":10,"qh":60},
{"t":10,"o":20,"ol":10,"oh":30,"g":50,"gl":30,"gh":70,"d":40,"dl":20,"dh":60,"q":50,"ql":20,"qh":90},
{"t":12,"o":25,"ol":15,"oh":35,"g":100,"gl":75,"gh":125,"d":60,"dl":40,"dh":80,"q":80,"ql":50,"qh":130},
{"t":14,"o":30,"ol":20,"oh":40,"g":180,"gl":150,"gh":210,"d":130,"dl":105,"dh":155,"q":90,"ql":60,"qh":150},
{"t":16,"o":35,"ol":25,"oh":45,"g":160,"gl":130,"gh":190,"d":140,"dl":115,"dh":165,"q":100,"ql":60,"qh":170},
{"t":18,"o":38,"ol":28,"oh":48,"g":250,"gl":220,"gh":280,"d":200,"dl":175,"dh":225,"q":140,"ql":80,"qh":220},
{"t":20,"o":40,"ol":30,"oh":50,"g":280,"gl":250,"gh":310,"d":280,"dl":255,"dh":305,"q":180,"ql":100,"qh":280},
{"t":22,"o":50,"ol":40,"oh":60,"g":300,"gl":270,"gh":330,"d":320,"dl":295,"dh":345,"q":220,"ql":120,"qh":330},
{"t":24,"o":60,"ol":50,"oh":70,"g":350,"gl":320,"gh":380,"d":380,"dl":355,"dh":405,"q":260,"ql":150,"qh":400},
{"t":26,"o":80,"ol":70,"oh":90,"g":420,"gl":390,"gh":450,"d":420,"dl":395,"dh":445,"q":300,"ql":170,"qh":450},
{"t":28,"o":100,"ol":90,"oh":110,"g":480,"gl":450,"gh":510,"d":480,"dl":455,"dh":505,"q":350,"ql":180,"qh":520},
{"t":30,"o":130,"ol":118,"oh":142,"g":550,"gl":520,"gh":580,"d":540,"dl":515,"dh":565,"q":400,"ql":200,"qh":600},
{"t":32,"o":150,"ol":138,"oh":162,"g":620,"gl":590,"gh":650,"d":590,"dl":565,"dh":615,"q":450,"ql":240,"qh":700},
{"t":34,"o":180,"ol":168,"oh":192,"g":700,"gl":670,"gh":730,"d":650,"dl":625,"dh":675,"q":500,"ql":300,"qh":780},
{"t":36,"o":200,"ol":188,"oh":212,"g":800,"gl":770,"gh":830,"d":700,"dl":675,"dh":725,"q":550,"ql":350,"qh":820},
{"t":38,"o":250,"ol":235,"oh":265,"g":900,"gl":870,"gh":930,"d":780,"dl":755,"dh":805,"q":620,"ql":420,"qh":900},
{"t":40,"o":300,"ol":285,"oh":315,"g":1000,"gl":970,"gh":1030,"d":830,"dl":805,"dh":855,"q":700,"ql":500,"qh":950},
{"t":42,"o":340,"ol":325,"oh":355,"g":1180,"gl":1140,"gh":1210,"d":880,"dl":855,"dh":905,"q":750,"ql":550,"qh":1050},
{"t":44,"o":360,"ol":345,"oh":375,"g":1200,"gl":1160,"gh":1240,"d":920,"dl":895,"dh":945,"q":870,"ql":600,"qh":1200},
{"t":46,"o":420,"ol":400,"oh":440,"g":1250,"gl":1210,"gh":1290,"d":950,"dl":925,"dh":975,"q":1000,"ql":680,"qh":1350},
{"t":47,"o":440,"ol":420,"oh":460,"g":1260,"gl":1220,"gh":1300,"d":955,"dl":930,"dh":980,"q":1130,"ql":720,"qh":1490},
{"t":48,"o":460,"ol":440,"oh":480,"g":1260,"gl":1220,"gh":1300,"d":960,"dl":935,"dh":985,"q":980,"ql":700,"qh":1350},
{"t":50,"o":480,"ol":460,"oh":500,"g":1250,"gl":1210,"gh":1290,"d":1000,"dl":975,"dh":1025,"q":960,"ql":700,"qh":1300},
{"t":52,"o":500,"ol":480,"oh":520,"g":1260,"gl":1220,"gh":1300,"d":1030,"dl":1005,"dh":1055,"q":1000,"ql":750,"qh":1320},
{"t":53,"o":560,"ol":535,"oh":590,"g":1320,"gl":1280,"gh":1350,"d":1060,"dl":1030,"dh":1080,"q":950,"ql":760,"qh":1300},
{"t":54,"o":520,"ol":500,"oh":545,"g":1220,"gl":1180,"gh":1260,"d":1000,"dl":975,"dh":1025,"q":930,"ql":750,"qh":1300},
{"t":56,"o":540,"ol":515,"oh":565,"g":1280,"gl":1240,"gh":1320,"d":1020,"dl":995,"dh":1045,"q":950,"ql":760,"qh":1290},
{"t":58,"o":550,"ol":525,"oh":575,"g":1300,"gl":1260,"gh":1340,"d":990,"dl":965,"dh":1015,"q":1000,"ql":750,"qh":1250},
{"t":60,"o":530,"ol":505,"oh":555,"g":1220,"gl":1180,"gh":1260,"d":1000,"dl":975,"dh":1025,"q":900,"ql":700,"qh":1150},
{"t":62,"o":500,"ol":478,"oh":522,"g":1150,"gl":1110,"gh":1190,"d":960,"dl":935,"dh":985,"q":850,"ql":650,"qh":1050},
{"t":64,"o":480,"ol":460,"oh":500,"g":1160,"gl":1120,"gh":1200,"d":930,"dl":905,"dh":955,"q":760,"ql":580,"qh":950},
{"t":66,"o":440,"ol":420,"oh":460,"g":1050,"gl":1010,"gh":1090,"d":860,"dl":835,"dh":885,"q":700,"ql":520,"qh":880},
{"t":68,"o":400,"ol":382,"oh":418,"g":1000,"gl":965,"gh":1035,"d":790,"dl":765,"dh":815,"q":620,"ql":460,"qh":800},
{"t":70,"o":380,"ol":362,"oh":398,"g":900,"gl":865,"gh":935,"d":700,"dl":675,"dh":725,"q":560,"ql":400,"qh":720},
{"t":72,"o":330,"ol":314,"oh":346,"g":850,"gl":815,"gh":885,"d":650,"dl":625,"dh":675,"q":480,"ql":350,"qh":650},
{"t":74,"o":280,"ol":265,"oh":295,"g":780,"gl":745,"gh":815,"d":600,"dl":575,"dh":625,"q":420,"ql":300,"qh":560},
{"t":76,"o":240,"ol":225,"oh":255,"g":800,"gl":765,"gh":835,"d":530,"dl":505,"dh":555,"q":360,"ql":260,"qh":480},
{"t":78,"o":200,"ol":186,"oh":214,"g":600,"gl":570,"gh":630,"d":480,"dl":455,"dh":505,"q":300,"ql":220,"qh":420},
{"t":80,"o":170,"ol":156,"oh":184,"g":550,"gl":520,"gh":580,"d":410,"dl":385,"dh":435,"q":280,"ql":200,"qh":380},
{"t":82,"o":130,"ol":118,"oh":142,"g":400,"gl":370,"gh":430,"d":380,"dl":355,"dh":405,"q":240,"ql":170,"qh":330},
{"t":84,"o":110,"ol":98,"oh":122,"g":450,"gl":420,"gh":480,"d":300,"dl":275,"dh":325,"q":200,"ql":140,"qh":280},
{"t":86,"o":90,"ol":80,"oh":100,"g":330,"gl":300,"gh":360,"d":290,"dl":265,"dh":315,"q":160,"ql":110,"qh":230},
{"t":88,"o":70,"ol":60,"oh":80,"g":280,"gl":250,"gh":310,"d":230,"dl":205,"dh":255,"q":130,"ql":90,"qh":190},
{"t":90,"o":50,"ol":42,"oh":58,"g":200,"gl":175,"gh":225,"d":190,"dl":170,"dh":210,"q":110,"ql":75,"qh":160},
{"t":92,"o":45,"ol":37,"oh":53,"g":150,"gl":125,"gh":175,"d":150,"dl":130,"dh":170,"q":90,"ql":60,"qh":130},
{"t":94,"o":40,"ol":32,"oh":48,"g":120,"gl":100,"gh":140,"d":130,"dl":110,"dh":150,"q":80,"ql":50,"qh":110},
{"t":96,"o":35,"ol":27,"oh":43,"g":110,"gl":90,"gh":130,"d":100,"dl":80,"dh":120,"q":60,"ql":40,"qh":90},
{"t":98,"o":25,"ol":18,"oh":32,"g":60,"gl":45,"gh":75,"d":60,"dl":45,"dh":75,"q":50,"ql":30,"qh":75},
{"t":100,"o":20,"ol":13,"oh":27,"g":70,"gl":55,"gh":85,"d":50,"dl":35,"dh":65,"q":40,"ql":20,"qh":60},
{"t":102,"o":15,"ol":9,"oh":21,"g":60,"gl":45,"gh":75,"d":60,"dl":45,"dh":75,"q":30,"ql":15,"qh":50},
{"t":104,"o":10,"ol":5,"oh":15,"g":50,"gl":35,"gh":65,"d":40,"dl":28,"dh":52,"q":20,"ql":10,"qh":40},
{"t":105,"o":0,"ol":0,"oh":0,"g":0,"gl":0,"gh":0,"d":0,"dl":0,"dh":0,"q":0,"ql":0,"qh":0},
{"t":200,"o":0,"ol":0,"oh":0,"g":0,"gl":0,"gh":0,"d":0,"dl":0,"dh":0,"q":0,"ql":0,"qh":0}
 ]},
 "encoding":{"x":{"field":"t","type":"quantitative","scale":{"domain":[-10,210],"nice":false,"zero":false},"axis":{"values":[0,25,50,75,100,125,150,175,200],"title":"Time slot(s)"}}},
 "layer":[
  {"mark":{"type":"area","opacity":0.3},"encoding":{"y":{"field":"ql","type":"quantitative","scale":{"domain":[-74.5,1564],"nice":false,"zero":false},"axis":{"values":[0,200,400,600,800,1000,1200,1400],"title":"The total time cost of tasks within each time slot(s)"}},"y2":{"field":"qh"},
   "fill":{"datum":"Confidence Interval ppo","type":"nominal","scale":{"domain":["Confidence Interval greedy","Confidence Interval ours","Confidence Interval dqn","Confidence Interval ppo"],"range":["#0000ff","#ff0000","#008000","#cc99cc"]},"legend":{"title":null,"orient":"none","legendX":217,"legendY":65,"symbolType":"M-1.22,-0.43H1.22V0.43H-1.22Z","symbolOpacity":0.3,"symbolStrokeWidth":0}}}},
  {"mark":{"type":"area","opacity":0.3},"encoding":{"y":{"field":"gl","type":"quantitative"},"y2":{"field":"gh"},"fill":{"datum":"Confidence Interval greedy","type":"nominal"}}},
  {"mark":{"type":"area","opacity":0.3},"encoding":{"y":{"field":"ol","type":"quantitative"},"y2":{"field":"oh"},"fill":{"datum":"Confidence Interval ours","type":"nominal"}}},
  {"mark":{"type":"area","opacity":0.3},"encoding":{"y":{"field":"dl","type":"quantitative"},"y2":{"field":"dh"},"fill":{"datum":"Confidence Interval dqn","type":"nominal"}}},
  {"mark":{"type":"line","strokeWidth":1.2},"encoding":{"y":{"field":"o","type":"quantitative"},"color":{"datum":"Mean Line ours","type":"nominal","scale":{"domain":["Mean Line ours","Mean Line greedy","Mean Line dqn","Mean Line ppo"],"range":["#ff0000","#0000ff","#008000","#800080"]},"legend":{"title":null,"orient":"none","legendX":217,"legendY":0,"rowPadding":0,"symbolType":"M-1.22,0H1.22","symbolStrokeWidth":1.5}}}},
  {"mark":{"type":"line","strokeWidth":1.2},"encoding":{"y":{"field":"g","type":"quantitative"},"color":{"datum":"Mean Line greedy","type":"nominal"}}},
  {"mark":{"type":"line","strokeWidth":1.2},"encoding":{"y":{"field":"d","type":"quantitative"},"color":{"datum":"Mean Line dqn","type":"nominal"}}},
  {"mark":{"type":"line","strokeWidth":1,"opacity":0.5},"encoding":{"y":{"field":"q","type":"quantitative"},"color":{"datum":"Mean Line ppo","type":"nominal"}}}
 ]}]}
]}
]
}
